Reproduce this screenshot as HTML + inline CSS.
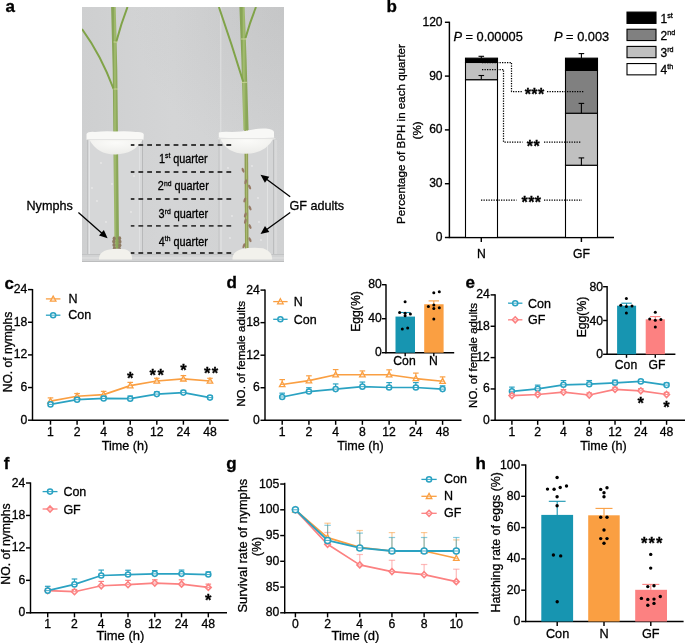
<!DOCTYPE html>
<html><head><meta charset="utf-8"><style>
html,body{margin:0;padding:0;background:#fff;}
svg{display:block;font-family:"Liberation Sans", sans-serif;will-change:transform;}
text{stroke:#000;stroke-width:0.3px;}
</style></head><body>
<svg width="685" height="643" viewBox="0 0 685 643" font-family='"Liberation Sans", sans-serif'>
<text x="5.5" y="12.4" font-size="17" text-anchor="start" font-weight="bold" fill="#000">a</text>
<defs>
<linearGradient id="bg" x1="0" y1="0" x2="1" y2="0">
<stop offset="0" stop-color="#cecfd0"/><stop offset="0.45" stop-color="#d4d5d6"/><stop offset="1" stop-color="#d0d1d2"/>
</linearGradient>
<radialGradient id="tr" cx="1" cy="0" r="0.75" gradientTransform="translate(0 0) scale(1 0.8)">
<stop offset="0" stop-color="#9a9b9c" stop-opacity="0.2"/><stop offset="1" stop-color="#9a9b9c" stop-opacity="0"/>
</radialGradient>
<linearGradient id="stem" x1="0" y1="0" x2="1" y2="0">
<stop offset="0" stop-color="#88a556"/><stop offset="0.45" stop-color="#a6bf72"/><stop offset="1" stop-color="#8aa658"/>
</linearGradient>
<linearGradient id="stem2" x1="0" y1="0" x2="1" y2="0"><stop offset="0" stop-color="#8f9f55"/><stop offset="0.45" stop-color="#abbb70"/><stop offset="1" stop-color="#919f57"/></linearGradient>
<radialGradient id="cot" cx="0.5" cy="0.2" r="0.8">
<stop offset="0" stop-color="#fbfbf9"/><stop offset="1" stop-color="#ecece9"/>
</radialGradient>
<clipPath id="photo"><rect x="82" y="7" width="202" height="255"/></clipPath>
</defs>
<g clip-path="url(#photo)">
<rect x="82" y="7" width="202" height="255" fill="url(#bg)" stroke="none" stroke-width="1"/>
<rect x="82" y="7" width="202" height="255" fill="url(#tr)" stroke="none" stroke-width="1"/>
<rect x="87" y="138" width="56" height="118" fill="#d6d7d8" stroke="none" stroke-width="1"/>
<rect x="219" y="136" width="55.5" height="120" fill="#d4d5d6" stroke="none" stroke-width="1"/>
<line x1="87.5" y1="140" x2="87.5" y2="256" stroke="#bfc0c1" stroke-width="1"/>
<line x1="89.5" y1="140" x2="89.5" y2="256" stroke="#e4e5e6" stroke-width="1"/>
<line x1="139.5" y1="140" x2="139.5" y2="256" stroke="#e0e1e2" stroke-width="1"/>
<line x1="142.5" y1="140" x2="142.5" y2="256" stroke="#b8b9ba" stroke-width="1"/>
<line x1="219" y1="140" x2="219" y2="256" stroke="#c3c4c5" stroke-width="1"/>
<line x1="221" y1="140" x2="221" y2="256" stroke="#e4e5e5" stroke-width="1"/>
<line x1="267.5" y1="140" x2="267.5" y2="256" stroke="#e2e3e3" stroke-width="1"/>
<line x1="273.5" y1="140" x2="273.5" y2="256" stroke="#bcbdbe" stroke-width="1"/>
<line x1="276" y1="140" x2="276" y2="256" stroke="#e0e0e0" stroke-width="1"/>
<line x1="220.8" y1="7" x2="220.8" y2="135" stroke="#e0e1e2" stroke-width="1"/>
<rect x="82" y="254" width="202" height="8" fill="#d2d3d4" stroke="none" stroke-width="1"/>
<line x1="82" y1="254.5" x2="284" y2="254.5" stroke="#c2c3c4" stroke-width="1"/>
<line x1="82" y1="258" x2="284" y2="258" stroke="#e2e2e2" stroke-width="1"/>
<line x1="82" y1="261.5" x2="284" y2="261.5" stroke="#bcbdbe" stroke-width="1"/>
<path d="M113.4,7 L115,70 L115.6,130 L116.8,250" stroke="url(#stem)" stroke-width="4.6" fill="none"/>
<path d="M127.5,7 Q121,24 116.2,42" stroke="#80a348" stroke-width="2" fill="none"/>
<path d="M82,29 Q101,55 113.6,89" stroke="#80a348" stroke-width="2" fill="none"/>
<path d="M242,7 L244,60 L246,130" stroke="url(#stem)" stroke-width="5.2" fill="none"/>
<path d="M246.2,130 L246.8,250" stroke="url(#stem2)" stroke-width="3.6" fill="none"/>
<path d="M256,7 Q250,22 245.5,38" stroke="#80a348" stroke-width="2" fill="none"/>
<path d="M218.9,7 Q232,45 243.3,82" stroke="#80a348" stroke-width="2" fill="none"/>
<line x1="113.5" y1="42" x2="118" y2="42" stroke="#d4dca4" stroke-width="0.8"/>
<line x1="113.5" y1="89" x2="118" y2="89" stroke="#d4dca4" stroke-width="0.8"/>
<line x1="241" y1="39" x2="247" y2="39" stroke="#d4dca4" stroke-width="0.8"/>
<line x1="241" y1="82.3" x2="247" y2="82.3" stroke="#d4dca4" stroke-width="0.8"/>
<ellipse cx="114.2" cy="238.5" rx="1.6" ry="2" fill="#8e7a62"/>
<ellipse cx="119.6" cy="238.2" rx="1.6" ry="2" fill="#8e7a62"/>
<ellipse cx="113.8" cy="241.5" rx="1.6" ry="2" fill="#8e7a62"/>
<ellipse cx="119.9" cy="241.8" rx="1.6" ry="2" fill="#8e7a62"/>
<ellipse cx="114" cy="245" rx="1.6" ry="2" fill="#8e7a62"/>
<ellipse cx="119.8" cy="245.2" rx="1.6" ry="2" fill="#8e7a62"/>
<ellipse cx="114.4" cy="248.5" rx="1.6" ry="2" fill="#8e7a62"/>
<ellipse cx="119.3" cy="248.8" rx="1.6" ry="2" fill="#8e7a62"/>
<ellipse cx="243" cy="170.2" rx="1.2" ry="2.6" fill="#977a66" transform="rotate(-20 243 170.2)"/>
<ellipse cx="245.7" cy="181.7" rx="1.2" ry="2.6" fill="#977a66" transform="rotate(15 245.7 181.7)"/>
<ellipse cx="249.6" cy="187" rx="1.2" ry="2.6" fill="#977a66" transform="rotate(-25 249.6 187)"/>
<ellipse cx="244.8" cy="200" rx="1.2" ry="2.6" fill="#977a66" transform="rotate(20 244.8 200)"/>
<ellipse cx="250" cy="208" rx="1.2" ry="2.6" fill="#977a66" transform="rotate(-25 250 208)"/>
<ellipse cx="245.3" cy="215" rx="1.2" ry="2.6" fill="#977a66" transform="rotate(20 245.3 215)"/>
<ellipse cx="245.3" cy="221.2" rx="1.2" ry="2.6" fill="#977a66" transform="rotate(15 245.3 221.2)"/>
<ellipse cx="250" cy="226.5" rx="1.2" ry="2.6" fill="#977a66" transform="rotate(-25 250 226.5)"/>
<ellipse cx="250" cy="239.7" rx="1.2" ry="2.6" fill="#977a66" transform="rotate(-25 250 239.7)"/>
<ellipse cx="243.9" cy="245.8" rx="1.2" ry="2.6" fill="#977a66" transform="rotate(20 243.9 245.8)"/>
<circle cx="101" cy="163" r="0.9" fill="#e8e8e8"/>
<circle cx="112" cy="184" r="0.9" fill="#e8e8e8"/>
<circle cx="97" cy="201" r="0.9" fill="#e8e8e8"/>
<circle cx="131" cy="212" r="0.9" fill="#e8e8e8"/>
<circle cx="106" cy="222" r="0.9" fill="#e8e8e8"/>
<circle cx="92" cy="188" r="0.9" fill="#e8e8e8"/>
<circle cx="134" cy="176" r="0.9" fill="#e8e8e8"/>
<circle cx="228" cy="168" r="0.9" fill="#e8e8e8"/>
<circle cx="252" cy="166" r="0.9" fill="#e8e8e8"/>
<circle cx="258" cy="198" r="0.9" fill="#e8e8e8"/>
<circle cx="232" cy="216" r="0.9" fill="#e8e8e8"/>
<circle cx="259" cy="222" r="0.9" fill="#e8e8e8"/>
<circle cx="230" cy="238" r="0.9" fill="#e8e8e8"/>
<circle cx="261" cy="240" r="0.9" fill="#e8e8e8"/>
<path d="M89.5,140 Q98,155 116,154.4 Q134,154 142.5,140 Z" fill="url(#cot)"/>
<path d="M86.5,134 Q88,131.3 95,132 Q104,130.8 115,131.5 Q127,130.6 136,132 Q143.5,131.5 143.8,134.5 L143.5,139.8 Q115,141.8 86.5,139.8 Z" fill="#f8f8f6"/>
<line x1="87" y1="139.6" x2="143.5" y2="139.6" stroke="#dcdcda" stroke-width="0.8"/>
<path d="M219.8,137.5 Q226,153.5 245.5,153.8 Q266,153.5 274,137.5 Z" fill="url(#cot)"/>
<path d="M218.8,132.5 Q222,131.5 232,132 Q242,131.5 248,130.5 Q256,128.2 266,128.6 Q273.5,129.5 274,132 L274,137.5 Q248,139.5 218.8,137.5 Z" fill="#f8f8f6"/>
<line x1="218" y1="138.6" x2="275.5" y2="138.6" stroke="#e2e2e0" stroke-width="1"/>
<path d="M99,259.5 Q98.5,252.5 107,250 Q116,247.8 125,249.2 Q132.5,251.5 132,259.5 Z" fill="#f2f1ec"/>
<path d="M232.5,259.5 Q232,252 241,249.2 Q252,246.8 263,248.3 Q272.5,251.5 272.2,259.5 Z" fill="#f2f1ec"/>
</g>
<line x1="231.2" y1="145" x2="130.8" y2="145" stroke="#3a3a3a" stroke-width="1.8" stroke-dasharray="4.8 4.0"/>
<line x1="231.2" y1="172" x2="130.8" y2="172" stroke="#3a3a3a" stroke-width="1.8" stroke-dasharray="4.8 4.0"/>
<line x1="231.2" y1="199" x2="130.8" y2="199" stroke="#3a3a3a" stroke-width="1.8" stroke-dasharray="4.8 4.0"/>
<line x1="231.2" y1="225.8" x2="130.8" y2="225.8" stroke="#3a3a3a" stroke-width="1.8" stroke-dasharray="4.8 4.0"/>
<line x1="231.2" y1="253" x2="130.8" y2="253" stroke="#3a3a3a" stroke-width="1.8" stroke-dasharray="4.8 4.0"/>
<text transform="translate(183.3 162.5) scale(0.89 1)" x="0" y="0" font-size="12.2" text-anchor="middle" fill="#000">1<tspan font-size="7.6" dy="-4.4">st</tspan><tspan dy="4.4"> quarter</tspan></text>
<text transform="translate(183.3 190.1) scale(0.89 1)" x="0" y="0" font-size="12.2" text-anchor="middle" fill="#000">2<tspan font-size="7.6" dy="-4.4">nd</tspan><tspan dy="4.4"> quarter</tspan></text>
<text transform="translate(183.3 217.9) scale(0.89 1)" x="0" y="0" font-size="12.2" text-anchor="middle" fill="#000">3<tspan font-size="7.6" dy="-4.4">rd</tspan><tspan dy="4.4"> quarter</tspan></text>
<text transform="translate(183.3 245.5) scale(0.89 1)" x="0" y="0" font-size="12.2" text-anchor="middle" fill="#000">4<tspan font-size="7.6" dy="-4.4">th</tspan><tspan dy="4.4"> quarter</tspan></text>
<text x="26.5" y="209.5" font-size="12.6" text-anchor="start" font-weight="normal" fill="#000">Nymphs</text>
<text x="289.5" y="210.2" font-size="12.6" text-anchor="start" font-weight="normal" fill="#000">GF adults</text>
<line x1="78.4" y1="212.6" x2="102.18604455801014" y2="233.45351851661164" stroke="#000" stroke-width="1.3"/>
<polygon points="107.60,238.20 98.99,235.58 103.87,230.01" fill="#000"/>
<line x1="290.2" y1="196.7" x2="266.294930437085" y2="179.0730295142142" stroke="#000" stroke-width="1.3"/>
<polygon points="260.50,174.80 269.30,176.69 264.90,182.64" fill="#000"/>
<line x1="290.2" y1="212.5" x2="266.3415546522476" y2="229.6909336849125" stroke="#000" stroke-width="1.3"/>
<polygon points="260.50,233.90 264.99,226.10 269.32,232.11" fill="#000"/>
<text x="386.5" y="12.3" font-size="17" text-anchor="start" font-weight="bold" fill="#000">b</text>
<line x1="449.4" y1="21.7" x2="449.4" y2="238.1" stroke="#000" stroke-width="1.45"/>
<line x1="444.9" y1="237.5" x2="449.4" y2="237.5" stroke="#000" stroke-width="1.45"/>
<text x="442.59999999999997" y="241.0" font-size="12.1" text-anchor="end" font-weight="normal" fill="#000">0</text>
<line x1="444.9" y1="183.7" x2="449.4" y2="183.7" stroke="#000" stroke-width="1.45"/>
<text x="442.59999999999997" y="187.2" font-size="12.1" text-anchor="end" font-weight="normal" fill="#000">30</text>
<line x1="444.9" y1="129.9" x2="449.4" y2="129.9" stroke="#000" stroke-width="1.45"/>
<text x="442.59999999999997" y="133.4" font-size="12.1" text-anchor="end" font-weight="normal" fill="#000">60</text>
<line x1="444.9" y1="76.1" x2="449.4" y2="76.1" stroke="#000" stroke-width="1.45"/>
<text x="442.59999999999997" y="79.6" font-size="12.1" text-anchor="end" font-weight="normal" fill="#000">90</text>
<line x1="444.9" y1="22.30000000000001" x2="449.4" y2="22.30000000000001" stroke="#000" stroke-width="1.45"/>
<text x="442.59999999999997" y="25.8" font-size="12.1" text-anchor="end" font-weight="normal" fill="#000">120</text>
<line x1="448.79999999999995" y1="237.5" x2="614" y2="237.5" stroke="#000" stroke-width="1.45"/>
<line x1="481.3" y1="237.5" x2="481.3" y2="242.0" stroke="#000" stroke-width="1.45"/>
<line x1="581.4" y1="237.5" x2="581.4" y2="242.0" stroke="#000" stroke-width="1.45"/>
<text x="481.3" y="258.3" font-size="12.2" text-anchor="middle" font-weight="normal" fill="#000">N</text>
<text x="581.4" y="258.3" font-size="12.2" text-anchor="middle" font-weight="normal" fill="#000">GF</text>
<text x="405" y="134" font-size="11.6" text-anchor="middle" font-weight="normal" fill="#000" transform="rotate(-90 405 134)">Percentage of BPH in each quarter</text>
<text x="421" y="130.4" font-size="11.6" text-anchor="middle" font-weight="normal" fill="#000" transform="rotate(-90 421 130.4)">(%)</text>
<rect x="465.5" y="79.68666666666667" width="32" height="157.81333333333333" fill="#fff" stroke="#000" stroke-width="1.1"/>
<rect x="465.5" y="62.47066666666669" width="32" height="17.21599999999998" fill="#c0c0c0" stroke="#000" stroke-width="1.1"/>
<rect x="465.5" y="58.16666666666666" width="32" height="4.3040000000000305" fill="#000" stroke="#000" stroke-width="1.1"/>
<rect x="565.5" y="165.22866666666667" width="32" height="72.27133333333333" fill="#fff" stroke="#000" stroke-width="1.1"/>
<rect x="565.5" y="113.22200000000001" width="32" height="52.00666666666666" fill="#c0c0c0" stroke="#000" stroke-width="1.1"/>
<rect x="565.5" y="70.36133333333333" width="32" height="42.860666666666674" fill="#808080" stroke="#000" stroke-width="1.1"/>
<rect x="565.5" y="58.16666666666666" width="32" height="12.194666666666677" fill="#000" stroke="#000" stroke-width="1.1"/>
<line x1="481.3" y1="58.2" x2="481.3" y2="56.3" stroke="#000" stroke-width="1.1"/>
<line x1="478.5" y1="56.3" x2="484.1" y2="56.3" stroke="#000" stroke-width="1.1"/>
<line x1="481.3" y1="79.4" x2="481.3" y2="75.5" stroke="#000" stroke-width="1.1"/>
<line x1="478.5" y1="75.5" x2="484.1" y2="75.5" stroke="#000" stroke-width="1.1"/>
<line x1="581.4" y1="58.2" x2="581.4" y2="53.6" stroke="#000" stroke-width="1.1"/>
<line x1="578.6" y1="53.6" x2="584.1999999999999" y2="53.6" stroke="#000" stroke-width="1.1"/>
<line x1="581.4" y1="113.3" x2="581.4" y2="103.4" stroke="#000" stroke-width="1.1"/>
<line x1="578.6" y1="103.4" x2="584.1999999999999" y2="103.4" stroke="#000" stroke-width="1.1"/>
<line x1="581.4" y1="165.5" x2="581.4" y2="157.9" stroke="#000" stroke-width="1.1"/>
<line x1="578.6" y1="157.9" x2="584.1999999999999" y2="157.9" stroke="#000" stroke-width="1.1"/>
<polyline points="482.00,62.50 511.50,62.50 511.50,91.50 522.50,91.50" fill="none" stroke="#000" stroke-width="1.25" stroke-linejoin="round" stroke-dasharray="1.3 1.2"/>
<polyline points="547.00,91.50 584.00,91.50" fill="none" stroke="#000" stroke-width="1.25" stroke-linejoin="round" stroke-dasharray="1.3 1.2"/>
<polyline points="482.00,69.50 503.50,69.50 503.50,142.00 522.50,142.00" fill="none" stroke="#000" stroke-width="1.25" stroke-linejoin="round" stroke-dasharray="1.3 1.2"/>
<polyline points="544.00,142.00 581.00,142.00" fill="none" stroke="#000" stroke-width="1.25" stroke-linejoin="round" stroke-dasharray="1.3 1.2"/>
<polyline points="481.00,200.00 516.50,200.00" fill="none" stroke="#000" stroke-width="1.25" stroke-linejoin="round" stroke-dasharray="1.3 1.2"/>
<polyline points="544.00,200.00 582.00,200.00" fill="none" stroke="#000" stroke-width="1.25" stroke-linejoin="round" stroke-dasharray="1.3 1.2"/>
<text x="527.8" y="99.91" font-size="16" text-anchor="middle" font-weight="bold" fill="#000">*</text>
<text x="534.4" y="99.91" font-size="16" text-anchor="middle" font-weight="bold" fill="#000">*</text>
<text x="541.0" y="99.91" font-size="16" text-anchor="middle" font-weight="bold" fill="#000">*</text>
<text x="529.9" y="151.81" font-size="16" text-anchor="middle" font-weight="bold" fill="#000">*</text>
<text x="536.5" y="151.81" font-size="16" text-anchor="middle" font-weight="bold" fill="#000">*</text>
<text x="524.7" y="208.41" font-size="16" text-anchor="middle" font-weight="bold" fill="#000">*</text>
<text x="531.3" y="208.41" font-size="16" text-anchor="middle" font-weight="bold" fill="#000">*</text>
<text x="537.9" y="208.41" font-size="16" text-anchor="middle" font-weight="bold" fill="#000">*</text>
<text x="453.4" y="41.2" font-size="12.8" fill="#000"><tspan font-style="italic">P</tspan> = 0.00005</text>
<text x="554" y="41.2" font-size="12.8" fill="#000"><tspan font-style="italic">P</tspan> = 0.003</text>
<rect x="627" y="12.1" width="29" height="11.3" fill="#000" stroke="#000" stroke-width="1.1"/>
<text x="660.5" y="22.5" font-size="12" fill="#000">1<tspan font-size="7.2" dy="-4.6">st</tspan></text>
<rect x="627" y="29.25" width="29" height="11.3" fill="#808080" stroke="#000" stroke-width="1.1"/>
<text x="660.5" y="39.6" font-size="12" fill="#000">2<tspan font-size="7.2" dy="-4.6">nd</tspan></text>
<rect x="627" y="46.4" width="29" height="11.3" fill="#c0c0c0" stroke="#000" stroke-width="1.1"/>
<text x="660.5" y="56.8" font-size="12" fill="#000">3<tspan font-size="7.2" dy="-4.6">rd</tspan></text>
<rect x="627" y="63.55" width="29" height="11.3" fill="#fff" stroke="#000" stroke-width="1.1"/>
<text x="660.5" y="74.0" font-size="12" fill="#000">4<tspan font-size="7.2" dy="-4.6">th</tspan></text>
<text x="4.5" y="288.6" font-size="17" text-anchor="start" font-weight="bold" fill="#000">c</text>
<line x1="32.5" y1="289.0" x2="32.5" y2="420.8" stroke="#000" stroke-width="1.45"/>
<line x1="28.0" y1="420.2" x2="32.5" y2="420.2" stroke="#000" stroke-width="1.45"/>
<text x="27.2" y="423.73" font-size="12.2" text-anchor="end" font-weight="normal" fill="#000">0</text>
<line x1="28.0" y1="387.55" x2="32.5" y2="387.55" stroke="#000" stroke-width="1.45"/>
<text x="27.2" y="391.08" font-size="12.2" text-anchor="end" font-weight="normal" fill="#000">6</text>
<line x1="28.0" y1="354.9" x2="32.5" y2="354.9" stroke="#000" stroke-width="1.45"/>
<text x="27.2" y="358.43" font-size="12.2" text-anchor="end" font-weight="normal" fill="#000">12</text>
<line x1="28.0" y1="322.25" x2="32.5" y2="322.25" stroke="#000" stroke-width="1.45"/>
<text x="27.2" y="325.78" font-size="12.2" text-anchor="end" font-weight="normal" fill="#000">18</text>
<line x1="28.0" y1="289.6" x2="32.5" y2="289.6" stroke="#000" stroke-width="1.45"/>
<text x="27.2" y="293.13" font-size="12.2" text-anchor="end" font-weight="normal" fill="#000">24</text>
<line x1="31.9" y1="420.2" x2="228.7" y2="420.2" stroke="#000" stroke-width="1.45"/>
<line x1="50.5" y1="420.2" x2="50.5" y2="424.7" stroke="#000" stroke-width="1.45"/>
<text x="50.5" y="436" font-size="12.2" text-anchor="middle" font-weight="normal" fill="#000">1</text>
<line x1="77.08" y1="420.2" x2="77.08" y2="424.7" stroke="#000" stroke-width="1.45"/>
<text x="77.08" y="436" font-size="12.2" text-anchor="middle" font-weight="normal" fill="#000">2</text>
<line x1="103.66" y1="420.2" x2="103.66" y2="424.7" stroke="#000" stroke-width="1.45"/>
<text x="103.66" y="436" font-size="12.2" text-anchor="middle" font-weight="normal" fill="#000">4</text>
<line x1="130.24" y1="420.2" x2="130.24" y2="424.7" stroke="#000" stroke-width="1.45"/>
<text x="130.24" y="436" font-size="12.2" text-anchor="middle" font-weight="normal" fill="#000">8</text>
<line x1="156.82" y1="420.2" x2="156.82" y2="424.7" stroke="#000" stroke-width="1.45"/>
<text x="156.82" y="436" font-size="12.2" text-anchor="middle" font-weight="normal" fill="#000">12</text>
<line x1="183.39999999999998" y1="420.2" x2="183.39999999999998" y2="424.7" stroke="#000" stroke-width="1.45"/>
<text x="183.39999999999998" y="436" font-size="12.2" text-anchor="middle" font-weight="normal" fill="#000">24</text>
<line x1="209.98" y1="420.2" x2="209.98" y2="424.7" stroke="#000" stroke-width="1.45"/>
<text x="209.98" y="436" font-size="12.2" text-anchor="middle" font-weight="normal" fill="#000">48</text>
<text x="124.9" y="449.8" font-size="12.6" text-anchor="middle" font-weight="normal" fill="#000">Time (h)</text>
<text x="11.6" y="352" font-size="12.1" text-anchor="middle" font-weight="normal" fill="#000" transform="rotate(-90 11.6 352)">NO. of nymphs</text>
<line x1="45.9" y1="298.9" x2="60.4" y2="298.9" stroke="#fa9f42" stroke-width="1.3"/>
<polygon points="53.15,296.00 55.91,301.07 50.39,301.07" fill="#fff" stroke="#fa9f42" stroke-width="1.3" stroke-linejoin="miter"/>
<line x1="51.70" y1="298.90" x2="54.60" y2="298.90" stroke="#fa9f42" stroke-width="0.9"/>
<text x="68.5" y="303.4" font-size="12.5" text-anchor="start" font-weight="normal" fill="#000">N</text>
<line x1="45.9" y1="315.2" x2="60.4" y2="315.2" stroke="#2aa2c2" stroke-width="1.3"/>
<circle cx="53.15" cy="315.20" r="2.55" fill="#fff" stroke="#2aa2c2" stroke-width="1.5"/>
<line x1="51.00" y1="315.20" x2="55.30" y2="315.20" stroke="#2aa2c2" stroke-width="0.9"/>
<text x="68.3" y="319.2" font-size="12.5" text-anchor="start" font-weight="normal" fill="#000">Con</text>
<line x1="50.5" y1="401.15416666666664" x2="50.5" y2="397.88916666666665" stroke="#fa9f42" stroke-width="1.2"/>
<line x1="47.7" y1="397.88916666666665" x2="53.3" y2="397.88916666666665" stroke="#fa9f42" stroke-width="1.2"/>
<line x1="77.08" y1="396.25666666666666" x2="77.08" y2="393.5358333333333" stroke="#fa9f42" stroke-width="1.2"/>
<line x1="74.28" y1="393.5358333333333" x2="79.88" y2="393.5358333333333" stroke="#fa9f42" stroke-width="1.2"/>
<line x1="103.66" y1="394.62416666666667" x2="103.66" y2="391.3591666666667" stroke="#fa9f42" stroke-width="1.2"/>
<line x1="100.86" y1="391.3591666666667" x2="106.46" y2="391.3591666666667" stroke="#fa9f42" stroke-width="1.2"/>
<line x1="130.24" y1="385.6454166666667" x2="130.24" y2="382.38041666666663" stroke="#fa9f42" stroke-width="1.2"/>
<line x1="127.44000000000001" y1="382.38041666666663" x2="133.04000000000002" y2="382.38041666666663" stroke="#fa9f42" stroke-width="1.2"/>
<line x1="156.82" y1="381.02" x2="156.82" y2="378.2991666666667" stroke="#fa9f42" stroke-width="1.2"/>
<line x1="154.01999999999998" y1="378.2991666666667" x2="159.62" y2="378.2991666666667" stroke="#fa9f42" stroke-width="1.2"/>
<line x1="183.39999999999998" y1="378.8433333333333" x2="183.39999999999998" y2="375.5783333333333" stroke="#fa9f42" stroke-width="1.2"/>
<line x1="180.59999999999997" y1="375.5783333333333" x2="186.2" y2="375.5783333333333" stroke="#fa9f42" stroke-width="1.2"/>
<line x1="209.98" y1="381.02" x2="209.98" y2="378.2991666666667" stroke="#fa9f42" stroke-width="1.2"/>
<line x1="207.17999999999998" y1="378.2991666666667" x2="212.78" y2="378.2991666666667" stroke="#fa9f42" stroke-width="1.2"/>
<polyline points="50.50,401.15 77.08,396.26 103.66,394.62 130.24,385.65 156.82,381.02 183.40,378.84 209.98,381.02" fill="none" stroke="#fa9f42" stroke-width="1.7" stroke-linejoin="round"/>
<polygon points="50.50,398.25 53.26,403.33 47.74,403.33" fill="#fff" stroke="#fa9f42" stroke-width="1.3" stroke-linejoin="miter"/>
<line x1="49.05" y1="401.15" x2="51.95" y2="401.15" stroke="#fa9f42" stroke-width="0.9"/>
<polygon points="77.08,393.36 79.83,398.43 74.33,398.43" fill="#fff" stroke="#fa9f42" stroke-width="1.3" stroke-linejoin="miter"/>
<line x1="75.63" y1="396.26" x2="78.53" y2="396.26" stroke="#fa9f42" stroke-width="0.9"/>
<polygon points="103.66,391.72 106.41,396.80 100.91,396.80" fill="#fff" stroke="#fa9f42" stroke-width="1.3" stroke-linejoin="miter"/>
<line x1="102.21" y1="394.62" x2="105.11" y2="394.62" stroke="#fa9f42" stroke-width="0.9"/>
<polygon points="130.24,382.75 133.00,387.82 127.49,387.82" fill="#fff" stroke="#fa9f42" stroke-width="1.3" stroke-linejoin="miter"/>
<line x1="128.79" y1="385.65" x2="131.69" y2="385.65" stroke="#fa9f42" stroke-width="0.9"/>
<polygon points="156.82,378.12 159.57,383.19 154.06,383.19" fill="#fff" stroke="#fa9f42" stroke-width="1.3" stroke-linejoin="miter"/>
<line x1="155.37" y1="381.02" x2="158.27" y2="381.02" stroke="#fa9f42" stroke-width="0.9"/>
<polygon points="183.40,375.94 186.15,381.02 180.64,381.02" fill="#fff" stroke="#fa9f42" stroke-width="1.3" stroke-linejoin="miter"/>
<line x1="181.95" y1="378.84" x2="184.85" y2="378.84" stroke="#fa9f42" stroke-width="0.9"/>
<polygon points="209.98,378.12 212.73,383.19 207.22,383.19" fill="#fff" stroke="#fa9f42" stroke-width="1.3" stroke-linejoin="miter"/>
<line x1="208.53" y1="381.02" x2="211.43" y2="381.02" stroke="#fa9f42" stroke-width="0.9"/>
<line x1="50.5" y1="404.4191666666667" x2="50.5" y2="402.2425" stroke="#2aa2c2" stroke-width="1.2"/>
<line x1="47.7" y1="402.2425" x2="53.3" y2="402.2425" stroke="#2aa2c2" stroke-width="1.2"/>
<line x1="77.08" y1="399.68491666666665" x2="77.08" y2="397.50825" stroke="#2aa2c2" stroke-width="1.2"/>
<line x1="74.28" y1="397.50825" x2="79.88" y2="397.50825" stroke="#2aa2c2" stroke-width="1.2"/>
<line x1="103.66" y1="398.43333333333334" x2="103.66" y2="396.25666666666666" stroke="#2aa2c2" stroke-width="1.2"/>
<line x1="100.86" y1="396.25666666666666" x2="106.46" y2="396.25666666666666" stroke="#2aa2c2" stroke-width="1.2"/>
<line x1="130.24" y1="398.7054166666667" x2="130.24" y2="395.9845833333333" stroke="#2aa2c2" stroke-width="1.2"/>
<line x1="127.44000000000001" y1="395.9845833333333" x2="133.04000000000002" y2="395.9845833333333" stroke="#2aa2c2" stroke-width="1.2"/>
<line x1="156.82" y1="394.08" x2="156.82" y2="391.9033333333333" stroke="#2aa2c2" stroke-width="1.2"/>
<line x1="154.01999999999998" y1="391.9033333333333" x2="159.62" y2="391.9033333333333" stroke="#2aa2c2" stroke-width="1.2"/>
<line x1="183.39999999999998" y1="392.61075" x2="183.39999999999998" y2="390.4340833333333" stroke="#2aa2c2" stroke-width="1.2"/>
<line x1="180.59999999999997" y1="390.4340833333333" x2="186.2" y2="390.4340833333333" stroke="#2aa2c2" stroke-width="1.2"/>
<line x1="209.98" y1="397.6170833333333" x2="209.98" y2="395.9845833333333" stroke="#2aa2c2" stroke-width="1.2"/>
<line x1="207.17999999999998" y1="395.9845833333333" x2="212.78" y2="395.9845833333333" stroke="#2aa2c2" stroke-width="1.2"/>
<polyline points="50.50,404.42 77.08,399.68 103.66,398.43 130.24,398.71 156.82,394.08 183.40,392.61 209.98,397.62" fill="none" stroke="#2aa2c2" stroke-width="1.7" stroke-linejoin="round"/>
<circle cx="50.50" cy="404.42" r="2.55" fill="#fff" stroke="#2aa2c2" stroke-width="1.5"/>
<line x1="48.35" y1="404.42" x2="52.65" y2="404.42" stroke="#2aa2c2" stroke-width="0.9"/>
<circle cx="77.08" cy="399.68" r="2.55" fill="#fff" stroke="#2aa2c2" stroke-width="1.5"/>
<line x1="74.93" y1="399.68" x2="79.23" y2="399.68" stroke="#2aa2c2" stroke-width="0.9"/>
<circle cx="103.66" cy="398.43" r="2.55" fill="#fff" stroke="#2aa2c2" stroke-width="1.5"/>
<line x1="101.51" y1="398.43" x2="105.81" y2="398.43" stroke="#2aa2c2" stroke-width="0.9"/>
<circle cx="130.24" cy="398.71" r="2.55" fill="#fff" stroke="#2aa2c2" stroke-width="1.5"/>
<line x1="128.09" y1="398.71" x2="132.39" y2="398.71" stroke="#2aa2c2" stroke-width="0.9"/>
<circle cx="156.82" cy="394.08" r="2.55" fill="#fff" stroke="#2aa2c2" stroke-width="1.5"/>
<line x1="154.67" y1="394.08" x2="158.97" y2="394.08" stroke="#2aa2c2" stroke-width="0.9"/>
<circle cx="183.40" cy="392.61" r="2.55" fill="#fff" stroke="#2aa2c2" stroke-width="1.5"/>
<line x1="181.25" y1="392.61" x2="185.55" y2="392.61" stroke="#2aa2c2" stroke-width="0.9"/>
<circle cx="209.98" cy="397.62" r="2.55" fill="#fff" stroke="#2aa2c2" stroke-width="1.5"/>
<line x1="207.83" y1="397.62" x2="212.13" y2="397.62" stroke="#2aa2c2" stroke-width="0.9"/>
<text x="130.24" y="384.15" font-size="16.5" text-anchor="middle" font-weight="bold" fill="#000">*</text>
<text x="152.8" y="381.35" font-size="16.5" text-anchor="middle" font-weight="bold" fill="#000">*</text>
<text x="160.6" y="381.35" font-size="16.5" text-anchor="middle" font-weight="bold" fill="#000">*</text>
<text x="183.4" y="375.65" font-size="16.5" text-anchor="middle" font-weight="bold" fill="#000">*</text>
<text x="207.1" y="379.05" font-size="16.5" text-anchor="middle" font-weight="bold" fill="#000">*</text>
<text x="214.9" y="379.05" font-size="16.5" text-anchor="middle" font-weight="bold" fill="#000">*</text>
<text x="226.5" y="287.7" font-size="17" text-anchor="start" font-weight="bold" fill="#000">d</text>
<line x1="265" y1="289.5" x2="265" y2="420.90000000000003" stroke="#000" stroke-width="1.45"/>
<line x1="260.5" y1="420.3" x2="265" y2="420.3" stroke="#000" stroke-width="1.45"/>
<text x="259.7" y="423.83" font-size="12.2" text-anchor="end" font-weight="normal" fill="#000">0</text>
<line x1="260.5" y1="387.75" x2="265" y2="387.75" stroke="#000" stroke-width="1.45"/>
<text x="259.7" y="391.28" font-size="12.2" text-anchor="end" font-weight="normal" fill="#000">6</text>
<line x1="260.5" y1="355.20000000000005" x2="265" y2="355.20000000000005" stroke="#000" stroke-width="1.45"/>
<text x="259.7" y="358.73" font-size="12.2" text-anchor="end" font-weight="normal" fill="#000">12</text>
<line x1="260.5" y1="322.65000000000003" x2="265" y2="322.65000000000003" stroke="#000" stroke-width="1.45"/>
<text x="259.7" y="326.18" font-size="12.2" text-anchor="end" font-weight="normal" fill="#000">18</text>
<line x1="260.5" y1="290.1" x2="265" y2="290.1" stroke="#000" stroke-width="1.45"/>
<text x="259.7" y="293.63" font-size="12.2" text-anchor="end" font-weight="normal" fill="#000">24</text>
<line x1="264.4" y1="420.3" x2="461.5" y2="420.3" stroke="#000" stroke-width="1.45"/>
<line x1="282.2" y1="420.3" x2="282.2" y2="424.8" stroke="#000" stroke-width="1.45"/>
<text x="282.2" y="436" font-size="12.2" text-anchor="middle" font-weight="normal" fill="#000">1</text>
<line x1="308.93" y1="420.3" x2="308.93" y2="424.8" stroke="#000" stroke-width="1.45"/>
<text x="308.93" y="436" font-size="12.2" text-anchor="middle" font-weight="normal" fill="#000">2</text>
<line x1="335.65999999999997" y1="420.3" x2="335.65999999999997" y2="424.8" stroke="#000" stroke-width="1.45"/>
<text x="335.65999999999997" y="436" font-size="12.2" text-anchor="middle" font-weight="normal" fill="#000">4</text>
<line x1="362.39" y1="420.3" x2="362.39" y2="424.8" stroke="#000" stroke-width="1.45"/>
<text x="362.39" y="436" font-size="12.2" text-anchor="middle" font-weight="normal" fill="#000">8</text>
<line x1="389.12" y1="420.3" x2="389.12" y2="424.8" stroke="#000" stroke-width="1.45"/>
<text x="389.12" y="436" font-size="12.2" text-anchor="middle" font-weight="normal" fill="#000">12</text>
<line x1="415.85" y1="420.3" x2="415.85" y2="424.8" stroke="#000" stroke-width="1.45"/>
<text x="415.85" y="436" font-size="12.2" text-anchor="middle" font-weight="normal" fill="#000">24</text>
<line x1="442.58" y1="420.3" x2="442.58" y2="424.8" stroke="#000" stroke-width="1.45"/>
<text x="442.58" y="436" font-size="12.2" text-anchor="middle" font-weight="normal" fill="#000">48</text>
<text x="360.5" y="450" font-size="12.6" text-anchor="middle" font-weight="normal" fill="#000">Time (h)</text>
<text x="245.2" y="353.9" font-size="11.6" text-anchor="middle" font-weight="normal" fill="#000" transform="rotate(-90 245.2 353.9)">NO. of female adults</text>
<line x1="273.2" y1="301.6" x2="287.6" y2="301.6" stroke="#fa9f42" stroke-width="1.3"/>
<polygon points="280.40,298.70 283.15,303.78 277.64,303.78" fill="#fff" stroke="#fa9f42" stroke-width="1.3" stroke-linejoin="miter"/>
<line x1="278.95" y1="301.60" x2="281.85" y2="301.60" stroke="#fa9f42" stroke-width="0.9"/>
<text x="293.7" y="306.1" font-size="12.5" text-anchor="start" font-weight="normal" fill="#000">N</text>
<line x1="273.2" y1="319.3" x2="287.6" y2="319.3" stroke="#2aa2c2" stroke-width="1.3"/>
<circle cx="280.40" cy="319.30" r="2.55" fill="#fff" stroke="#2aa2c2" stroke-width="1.5"/>
<line x1="278.25" y1="319.30" x2="282.55" y2="319.30" stroke="#2aa2c2" stroke-width="0.9"/>
<text x="293.7" y="323.8" font-size="12.5" text-anchor="start" font-weight="normal" fill="#000">Con</text>
<line x1="282.2" y1="396.9725" x2="282.2" y2="393.175" stroke="#2aa2c2" stroke-width="1.2"/>
<line x1="279.4" y1="393.175" x2="285.0" y2="393.175" stroke="#2aa2c2" stroke-width="1.2"/>
<line x1="308.93" y1="391.5475" x2="308.93" y2="387.75" stroke="#2aa2c2" stroke-width="1.2"/>
<line x1="306.13" y1="387.75" x2="311.73" y2="387.75" stroke="#2aa2c2" stroke-width="1.2"/>
<line x1="335.65999999999997" y1="389.10625" x2="335.65999999999997" y2="383.9525" stroke="#2aa2c2" stroke-width="1.2"/>
<line x1="332.85999999999996" y1="383.9525" x2="338.46" y2="383.9525" stroke="#2aa2c2" stroke-width="1.2"/>
<line x1="362.39" y1="386.665" x2="362.39" y2="382.05375000000004" stroke="#2aa2c2" stroke-width="1.2"/>
<line x1="359.59" y1="382.05375000000004" x2="365.19" y2="382.05375000000004" stroke="#2aa2c2" stroke-width="1.2"/>
<line x1="389.12" y1="387.47875" x2="389.12" y2="382.59625" stroke="#2aa2c2" stroke-width="1.2"/>
<line x1="386.32" y1="382.59625" x2="391.92" y2="382.59625" stroke="#2aa2c2" stroke-width="1.2"/>
<line x1="415.85" y1="387.47875" x2="415.85" y2="382.59625" stroke="#2aa2c2" stroke-width="1.2"/>
<line x1="413.05" y1="382.59625" x2="418.65000000000003" y2="382.59625" stroke="#2aa2c2" stroke-width="1.2"/>
<line x1="442.58" y1="389.10625" x2="442.58" y2="385.85125" stroke="#2aa2c2" stroke-width="1.2"/>
<line x1="439.78" y1="385.85125" x2="445.38" y2="385.85125" stroke="#2aa2c2" stroke-width="1.2"/>
<polyline points="282.20,396.97 308.93,391.55 335.66,389.11 362.39,386.67 389.12,387.48 415.85,387.48 442.58,389.11" fill="none" stroke="#2aa2c2" stroke-width="1.7" stroke-linejoin="round"/>
<circle cx="282.20" cy="396.97" r="2.55" fill="#fff" stroke="#2aa2c2" stroke-width="1.5"/>
<line x1="280.05" y1="396.97" x2="284.35" y2="396.97" stroke="#2aa2c2" stroke-width="0.9"/>
<circle cx="308.93" cy="391.55" r="2.55" fill="#fff" stroke="#2aa2c2" stroke-width="1.5"/>
<line x1="306.78" y1="391.55" x2="311.08" y2="391.55" stroke="#2aa2c2" stroke-width="0.9"/>
<circle cx="335.66" cy="389.11" r="2.55" fill="#fff" stroke="#2aa2c2" stroke-width="1.5"/>
<line x1="333.51" y1="389.11" x2="337.81" y2="389.11" stroke="#2aa2c2" stroke-width="0.9"/>
<circle cx="362.39" cy="386.67" r="2.55" fill="#fff" stroke="#2aa2c2" stroke-width="1.5"/>
<line x1="360.24" y1="386.67" x2="364.54" y2="386.67" stroke="#2aa2c2" stroke-width="0.9"/>
<circle cx="389.12" cy="387.48" r="2.55" fill="#fff" stroke="#2aa2c2" stroke-width="1.5"/>
<line x1="386.97" y1="387.48" x2="391.27" y2="387.48" stroke="#2aa2c2" stroke-width="0.9"/>
<circle cx="415.85" cy="387.48" r="2.55" fill="#fff" stroke="#2aa2c2" stroke-width="1.5"/>
<line x1="413.70" y1="387.48" x2="418.00" y2="387.48" stroke="#2aa2c2" stroke-width="0.9"/>
<circle cx="442.58" cy="389.11" r="2.55" fill="#fff" stroke="#2aa2c2" stroke-width="1.5"/>
<line x1="440.43" y1="389.11" x2="444.73" y2="389.11" stroke="#2aa2c2" stroke-width="0.9"/>
<line x1="282.2" y1="384.495" x2="282.2" y2="379.6125" stroke="#fa9f42" stroke-width="1.2"/>
<line x1="279.4" y1="379.6125" x2="285.0" y2="379.6125" stroke="#fa9f42" stroke-width="1.2"/>
<line x1="308.93" y1="380.6975" x2="308.93" y2="375.815" stroke="#fa9f42" stroke-width="1.2"/>
<line x1="306.13" y1="375.815" x2="311.73" y2="375.815" stroke="#fa9f42" stroke-width="1.2"/>
<line x1="335.65999999999997" y1="374.73" x2="335.65999999999997" y2="369.57625" stroke="#fa9f42" stroke-width="1.2"/>
<line x1="332.85999999999996" y1="369.57625" x2="338.46" y2="369.57625" stroke="#fa9f42" stroke-width="1.2"/>
<line x1="362.39" y1="374.73" x2="362.39" y2="370.9325" stroke="#fa9f42" stroke-width="1.2"/>
<line x1="359.59" y1="370.9325" x2="365.19" y2="370.9325" stroke="#fa9f42" stroke-width="1.2"/>
<line x1="389.12" y1="374.73" x2="389.12" y2="369.8475" stroke="#fa9f42" stroke-width="1.2"/>
<line x1="386.32" y1="369.8475" x2="391.92" y2="369.8475" stroke="#fa9f42" stroke-width="1.2"/>
<line x1="415.85" y1="378.52750000000003" x2="415.85" y2="373.1025" stroke="#fa9f42" stroke-width="1.2"/>
<line x1="413.05" y1="373.1025" x2="418.65000000000003" y2="373.1025" stroke="#fa9f42" stroke-width="1.2"/>
<line x1="442.58" y1="381.24" x2="442.58" y2="376.90000000000003" stroke="#fa9f42" stroke-width="1.2"/>
<line x1="439.78" y1="376.90000000000003" x2="445.38" y2="376.90000000000003" stroke="#fa9f42" stroke-width="1.2"/>
<polyline points="282.20,384.50 308.93,380.70 335.66,374.73 362.39,374.73 389.12,374.73 415.85,378.53 442.58,381.24" fill="none" stroke="#fa9f42" stroke-width="1.7" stroke-linejoin="round"/>
<polygon points="282.20,381.60 284.95,386.67 279.44,386.67" fill="#fff" stroke="#fa9f42" stroke-width="1.3" stroke-linejoin="miter"/>
<line x1="280.75" y1="384.50" x2="283.65" y2="384.50" stroke="#fa9f42" stroke-width="0.9"/>
<polygon points="308.93,377.80 311.69,382.87 306.18,382.87" fill="#fff" stroke="#fa9f42" stroke-width="1.3" stroke-linejoin="miter"/>
<line x1="307.48" y1="380.70" x2="310.38" y2="380.70" stroke="#fa9f42" stroke-width="0.9"/>
<polygon points="335.66,371.83 338.41,376.91 332.90,376.91" fill="#fff" stroke="#fa9f42" stroke-width="1.3" stroke-linejoin="miter"/>
<line x1="334.21" y1="374.73" x2="337.11" y2="374.73" stroke="#fa9f42" stroke-width="0.9"/>
<polygon points="362.39,371.83 365.14,376.91 359.63,376.91" fill="#fff" stroke="#fa9f42" stroke-width="1.3" stroke-linejoin="miter"/>
<line x1="360.94" y1="374.73" x2="363.84" y2="374.73" stroke="#fa9f42" stroke-width="0.9"/>
<polygon points="389.12,371.83 391.88,376.91 386.37,376.91" fill="#fff" stroke="#fa9f42" stroke-width="1.3" stroke-linejoin="miter"/>
<line x1="387.67" y1="374.73" x2="390.57" y2="374.73" stroke="#fa9f42" stroke-width="0.9"/>
<polygon points="415.85,375.63 418.61,380.70 413.10,380.70" fill="#fff" stroke="#fa9f42" stroke-width="1.3" stroke-linejoin="miter"/>
<line x1="414.40" y1="378.53" x2="417.30" y2="378.53" stroke="#fa9f42" stroke-width="0.9"/>
<polygon points="442.58,378.34 445.33,383.42 439.82,383.42" fill="#fff" stroke="#fa9f42" stroke-width="1.3" stroke-linejoin="miter"/>
<line x1="441.13" y1="381.24" x2="444.03" y2="381.24" stroke="#fa9f42" stroke-width="0.9"/>
<line x1="386" y1="284.2" x2="386" y2="353.3" stroke="#000" stroke-width="1.45"/>
<line x1="382" y1="352.7" x2="386" y2="352.7" stroke="#000" stroke-width="1.45"/>
<text x="381.9" y="356.23" font-size="12.2" text-anchor="end" font-weight="normal" fill="#000">0</text>
<line x1="382" y1="318.7" x2="386" y2="318.7" stroke="#000" stroke-width="1.45"/>
<text x="381.9" y="322.23" font-size="12.2" text-anchor="end" font-weight="normal" fill="#000">40</text>
<line x1="382" y1="284.7" x2="386" y2="284.7" stroke="#000" stroke-width="1.45"/>
<text x="381.9" y="288.23" font-size="12.2" text-anchor="end" font-weight="normal" fill="#000">80</text>
<line x1="385.4" y1="352.7" x2="454.2" y2="352.7" stroke="#000" stroke-width="1.45"/>
<line x1="405.2" y1="352.7" x2="405.2" y2="356.2" stroke="#000" stroke-width="1.45"/>
<line x1="433.8" y1="352.7" x2="433.8" y2="356.2" stroke="#000" stroke-width="1.45"/>
<text x="404.5" y="365" font-size="12.2" text-anchor="middle" font-weight="normal" fill="#000">Con</text>
<text x="433.5" y="365" font-size="12.2" text-anchor="middle" font-weight="normal" fill="#000">N</text>
<text x="360" y="311.5" font-size="12.2" text-anchor="middle" font-weight="normal" fill="#000" transform="rotate(-90 360 311.5)">Egg(%)</text>
<rect x="395.5" y="316.575" width="19.5" height="36.125" fill="#1795b1" stroke="none" stroke-width="1"/>
<rect x="424.2" y="304.25" width="19.4" height="48.44999999999999" fill="#fa9f42" stroke="none" stroke-width="1"/>
<line x1="405.2" y1="316.575" x2="405.2" y2="312.5" stroke="#1795b1" stroke-width="1.1"/>
<line x1="400.0" y1="312.5" x2="410.4" y2="312.5" stroke="#1795b1" stroke-width="1.1"/>
<line x1="433.8" y1="304.25" x2="433.8" y2="300.9" stroke="#fa9f42" stroke-width="1.1"/>
<line x1="428.6" y1="300.9" x2="439.0" y2="300.9" stroke="#fa9f42" stroke-width="1.1"/>
<circle cx="405.1" cy="301.8" r="1.5" fill="#000"/>
<circle cx="399.6" cy="312.5" r="1.5" fill="#000"/>
<circle cx="405.1" cy="313.2" r="1.5" fill="#000"/>
<circle cx="410.4" cy="314.1" r="1.5" fill="#000"/>
<circle cx="405.1" cy="315.8" r="1.5" fill="#000"/>
<circle cx="402.3" cy="329" r="1.5" fill="#000"/>
<circle cx="407.7" cy="328.1" r="1.5" fill="#000"/>
<circle cx="433.8" cy="292.8" r="1.5" fill="#000"/>
<circle cx="439.3" cy="291.8" r="1.5" fill="#000"/>
<circle cx="433.8" cy="304.9" r="1.5" fill="#000"/>
<circle cx="428.4" cy="306.6" r="1.5" fill="#000"/>
<circle cx="433.8" cy="308.4" r="1.5" fill="#000"/>
<circle cx="439.3" cy="307.8" r="1.5" fill="#000"/>
<circle cx="433.8" cy="318.9" r="1.5" fill="#000"/>
<text x="465.5" y="288" font-size="17" text-anchor="start" font-weight="bold" fill="#000">e</text>
<line x1="495.1" y1="294.29999999999995" x2="495.1" y2="420.90000000000003" stroke="#000" stroke-width="1.45"/>
<line x1="490.6" y1="420.3" x2="495.1" y2="420.3" stroke="#000" stroke-width="1.45"/>
<text x="489.8" y="423.83" font-size="12.2" text-anchor="end" font-weight="normal" fill="#000">0</text>
<line x1="490.6" y1="388.95" x2="495.1" y2="388.95" stroke="#000" stroke-width="1.45"/>
<text x="489.8" y="392.48" font-size="12.2" text-anchor="end" font-weight="normal" fill="#000">6</text>
<line x1="490.6" y1="357.6" x2="495.1" y2="357.6" stroke="#000" stroke-width="1.45"/>
<text x="489.8" y="361.13" font-size="12.2" text-anchor="end" font-weight="normal" fill="#000">12</text>
<line x1="490.6" y1="326.25" x2="495.1" y2="326.25" stroke="#000" stroke-width="1.45"/>
<text x="489.8" y="329.78" font-size="12.2" text-anchor="end" font-weight="normal" fill="#000">18</text>
<line x1="490.6" y1="294.9" x2="495.1" y2="294.9" stroke="#000" stroke-width="1.45"/>
<text x="489.8" y="298.43" font-size="12.2" text-anchor="end" font-weight="normal" fill="#000">24</text>
<line x1="494.5" y1="420.3" x2="685" y2="420.3" stroke="#000" stroke-width="1.45"/>
<line x1="511.9" y1="420.3" x2="511.9" y2="424.8" stroke="#000" stroke-width="1.45"/>
<text x="511.9" y="436" font-size="12.2" text-anchor="middle" font-weight="normal" fill="#000">1</text>
<line x1="537.68" y1="420.3" x2="537.68" y2="424.8" stroke="#000" stroke-width="1.45"/>
<text x="537.68" y="436" font-size="12.2" text-anchor="middle" font-weight="normal" fill="#000">2</text>
<line x1="563.46" y1="420.3" x2="563.46" y2="424.8" stroke="#000" stroke-width="1.45"/>
<text x="563.46" y="436" font-size="12.2" text-anchor="middle" font-weight="normal" fill="#000">4</text>
<line x1="589.24" y1="420.3" x2="589.24" y2="424.8" stroke="#000" stroke-width="1.45"/>
<text x="589.24" y="436" font-size="12.2" text-anchor="middle" font-weight="normal" fill="#000">8</text>
<line x1="615.02" y1="420.3" x2="615.02" y2="424.8" stroke="#000" stroke-width="1.45"/>
<text x="615.02" y="436" font-size="12.2" text-anchor="middle" font-weight="normal" fill="#000">12</text>
<line x1="640.8" y1="420.3" x2="640.8" y2="424.8" stroke="#000" stroke-width="1.45"/>
<text x="640.8" y="436" font-size="12.2" text-anchor="middle" font-weight="normal" fill="#000">24</text>
<line x1="666.5799999999999" y1="420.3" x2="666.5799999999999" y2="424.8" stroke="#000" stroke-width="1.45"/>
<text x="666.5799999999999" y="436" font-size="12.2" text-anchor="middle" font-weight="normal" fill="#000">48</text>
<text x="603.5" y="450" font-size="12.6" text-anchor="middle" font-weight="normal" fill="#000">Time (h)</text>
<text x="476.6" y="355.5" font-size="11.5" text-anchor="middle" font-weight="normal" fill="#000" transform="rotate(-90 476.6 355.5)">NO. of female adults</text>
<line x1="508" y1="303.2" x2="522.4" y2="303.2" stroke="#2aa2c2" stroke-width="1.3"/>
<circle cx="515.20" cy="303.20" r="2.55" fill="#fff" stroke="#2aa2c2" stroke-width="1.5"/>
<line x1="513.05" y1="303.20" x2="517.35" y2="303.20" stroke="#2aa2c2" stroke-width="0.9"/>
<text x="528.1" y="307.7" font-size="12.5" text-anchor="start" font-weight="normal" fill="#000">Con</text>
<line x1="508" y1="319.8" x2="522.4" y2="319.8" stroke="#fc8181" stroke-width="1.3"/>
<polygon points="515.20,316.80 518.05,319.80 515.20,322.80 512.35,319.80" fill="#fff" stroke="#fc8181" stroke-width="1.6"/>
<line x1="513.70" y1="319.80" x2="516.70" y2="319.80" stroke="#fc8181" stroke-width="0.9"/>
<text x="528.1" y="324.3" font-size="12.5" text-anchor="start" font-weight="normal" fill="#000">GF</text>
<line x1="511.9" y1="391.3" x2="511.9" y2="387.12" stroke="#2aa2c2" stroke-width="1.2"/>
<line x1="509.09999999999997" y1="387.12" x2="514.6999999999999" y2="387.12" stroke="#2aa2c2" stroke-width="1.2"/>
<line x1="537.68" y1="388.8" x2="537.68" y2="385.1425" stroke="#2aa2c2" stroke-width="1.2"/>
<line x1="534.88" y1="385.1425" x2="540.4799999999999" y2="385.1425" stroke="#2aa2c2" stroke-width="1.2"/>
<line x1="563.46" y1="384.8" x2="563.46" y2="380.62" stroke="#2aa2c2" stroke-width="1.2"/>
<line x1="560.6600000000001" y1="380.62" x2="566.26" y2="380.62" stroke="#2aa2c2" stroke-width="1.2"/>
<line x1="589.24" y1="384.2" x2="589.24" y2="380.5425" stroke="#2aa2c2" stroke-width="1.2"/>
<line x1="586.44" y1="380.5425" x2="592.04" y2="380.5425" stroke="#2aa2c2" stroke-width="1.2"/>
<line x1="615.02" y1="382.8" x2="615.02" y2="380.1875" stroke="#2aa2c2" stroke-width="1.2"/>
<line x1="612.22" y1="380.1875" x2="617.8199999999999" y2="380.1875" stroke="#2aa2c2" stroke-width="1.2"/>
<line x1="640.8" y1="381.4" x2="640.8" y2="379.8325" stroke="#2aa2c2" stroke-width="1.2"/>
<line x1="638.0" y1="379.8325" x2="643.5999999999999" y2="379.8325" stroke="#2aa2c2" stroke-width="1.2"/>
<line x1="666.5799999999999" y1="385.1" x2="666.5799999999999" y2="383.01" stroke="#2aa2c2" stroke-width="1.2"/>
<line x1="663.78" y1="383.01" x2="669.3799999999999" y2="383.01" stroke="#2aa2c2" stroke-width="1.2"/>
<polyline points="511.90,391.30 537.68,388.80 563.46,384.80 589.24,384.20 615.02,382.80 640.80,381.40 666.58,385.10" fill="none" stroke="#2aa2c2" stroke-width="1.7" stroke-linejoin="round"/>
<circle cx="511.90" cy="391.30" r="2.55" fill="#fff" stroke="#2aa2c2" stroke-width="1.5"/>
<line x1="509.75" y1="391.30" x2="514.05" y2="391.30" stroke="#2aa2c2" stroke-width="0.9"/>
<circle cx="537.68" cy="388.80" r="2.55" fill="#fff" stroke="#2aa2c2" stroke-width="1.5"/>
<line x1="535.53" y1="388.80" x2="539.83" y2="388.80" stroke="#2aa2c2" stroke-width="0.9"/>
<circle cx="563.46" cy="384.80" r="2.55" fill="#fff" stroke="#2aa2c2" stroke-width="1.5"/>
<line x1="561.31" y1="384.80" x2="565.61" y2="384.80" stroke="#2aa2c2" stroke-width="0.9"/>
<circle cx="589.24" cy="384.20" r="2.55" fill="#fff" stroke="#2aa2c2" stroke-width="1.5"/>
<line x1="587.09" y1="384.20" x2="591.39" y2="384.20" stroke="#2aa2c2" stroke-width="0.9"/>
<circle cx="615.02" cy="382.80" r="2.55" fill="#fff" stroke="#2aa2c2" stroke-width="1.5"/>
<line x1="612.87" y1="382.80" x2="617.17" y2="382.80" stroke="#2aa2c2" stroke-width="0.9"/>
<circle cx="640.80" cy="381.40" r="2.55" fill="#fff" stroke="#2aa2c2" stroke-width="1.5"/>
<line x1="638.65" y1="381.40" x2="642.95" y2="381.40" stroke="#2aa2c2" stroke-width="0.9"/>
<circle cx="666.58" cy="385.10" r="2.55" fill="#fff" stroke="#2aa2c2" stroke-width="1.5"/>
<line x1="664.43" y1="385.10" x2="668.73" y2="385.10" stroke="#2aa2c2" stroke-width="0.9"/>
<line x1="511.9" y1="395.6" x2="511.9" y2="394.0325" stroke="#fc8181" stroke-width="1.2"/>
<line x1="509.09999999999997" y1="394.0325" x2="514.6999999999999" y2="394.0325" stroke="#fc8181" stroke-width="1.2"/>
<line x1="537.68" y1="394.5" x2="537.68" y2="392.9325" stroke="#fc8181" stroke-width="1.2"/>
<line x1="534.88" y1="392.9325" x2="540.4799999999999" y2="392.9325" stroke="#fc8181" stroke-width="1.2"/>
<line x1="563.46" y1="392.2" x2="563.46" y2="389.5875" stroke="#fc8181" stroke-width="1.2"/>
<line x1="560.6600000000001" y1="389.5875" x2="566.26" y2="389.5875" stroke="#fc8181" stroke-width="1.2"/>
<line x1="589.24" y1="395.0" x2="589.24" y2="392.91" stroke="#fc8181" stroke-width="1.2"/>
<line x1="586.44" y1="392.91" x2="592.04" y2="392.91" stroke="#fc8181" stroke-width="1.2"/>
<line x1="615.02" y1="389.4" x2="615.02" y2="387.30999999999995" stroke="#fc8181" stroke-width="1.2"/>
<line x1="612.22" y1="387.30999999999995" x2="617.8199999999999" y2="387.30999999999995" stroke="#fc8181" stroke-width="1.2"/>
<line x1="640.8" y1="390.8" x2="640.8" y2="388.71000000000004" stroke="#fc8181" stroke-width="1.2"/>
<line x1="638.0" y1="388.71000000000004" x2="643.5999999999999" y2="388.71000000000004" stroke="#fc8181" stroke-width="1.2"/>
<line x1="666.5799999999999" y1="394.5" x2="666.5799999999999" y2="392.40999999999997" stroke="#fc8181" stroke-width="1.2"/>
<line x1="663.78" y1="392.40999999999997" x2="669.3799999999999" y2="392.40999999999997" stroke="#fc8181" stroke-width="1.2"/>
<polyline points="511.90,395.60 537.68,394.50 563.46,392.20 589.24,395.00 615.02,389.40 640.80,390.80 666.58,394.50" fill="none" stroke="#fc8181" stroke-width="1.7" stroke-linejoin="round"/>
<polygon points="511.90,392.60 514.75,395.60 511.90,398.60 509.05,395.60" fill="#fff" stroke="#fc8181" stroke-width="1.6"/>
<line x1="510.40" y1="395.60" x2="513.40" y2="395.60" stroke="#fc8181" stroke-width="0.9"/>
<polygon points="537.68,391.50 540.53,394.50 537.68,397.50 534.83,394.50" fill="#fff" stroke="#fc8181" stroke-width="1.6"/>
<line x1="536.18" y1="394.50" x2="539.18" y2="394.50" stroke="#fc8181" stroke-width="0.9"/>
<polygon points="563.46,389.20 566.31,392.20 563.46,395.20 560.61,392.20" fill="#fff" stroke="#fc8181" stroke-width="1.6"/>
<line x1="561.96" y1="392.20" x2="564.96" y2="392.20" stroke="#fc8181" stroke-width="0.9"/>
<polygon points="589.24,392.00 592.09,395.00 589.24,398.00 586.39,395.00" fill="#fff" stroke="#fc8181" stroke-width="1.6"/>
<line x1="587.74" y1="395.00" x2="590.74" y2="395.00" stroke="#fc8181" stroke-width="0.9"/>
<polygon points="615.02,386.40 617.87,389.40 615.02,392.40 612.17,389.40" fill="#fff" stroke="#fc8181" stroke-width="1.6"/>
<line x1="613.52" y1="389.40" x2="616.52" y2="389.40" stroke="#fc8181" stroke-width="0.9"/>
<polygon points="640.80,387.80 643.65,390.80 640.80,393.80 637.95,390.80" fill="#fff" stroke="#fc8181" stroke-width="1.6"/>
<line x1="639.30" y1="390.80" x2="642.30" y2="390.80" stroke="#fc8181" stroke-width="0.9"/>
<polygon points="666.58,391.50 669.43,394.50 666.58,397.50 663.73,394.50" fill="#fff" stroke="#fc8181" stroke-width="1.6"/>
<line x1="665.08" y1="394.50" x2="668.08" y2="394.50" stroke="#fc8181" stroke-width="0.9"/>
<text x="640.8" y="408.85" font-size="16.5" text-anchor="middle" font-weight="bold" fill="#000">*</text>
<text x="666.58" y="413.15" font-size="16.5" text-anchor="middle" font-weight="bold" fill="#000">*</text>
<line x1="607.1" y1="285.9" x2="607.1" y2="354.90000000000003" stroke="#000" stroke-width="1.45"/>
<line x1="603.1" y1="354.3" x2="607.1" y2="354.3" stroke="#000" stroke-width="1.45"/>
<text x="603.0" y="358.43" font-size="12.2" text-anchor="end" font-weight="normal" fill="#000">0</text>
<line x1="603.1" y1="320.5" x2="607.1" y2="320.5" stroke="#000" stroke-width="1.45"/>
<text x="603.0" y="324.63" font-size="12.2" text-anchor="end" font-weight="normal" fill="#000">40</text>
<line x1="603.1" y1="286.70000000000005" x2="607.1" y2="286.70000000000005" stroke="#000" stroke-width="1.45"/>
<text x="603.0" y="290.83" font-size="12.2" text-anchor="end" font-weight="normal" fill="#000">80</text>
<line x1="606.5" y1="354.3" x2="675.4" y2="354.3" stroke="#000" stroke-width="1.45"/>
<line x1="626.5" y1="354.3" x2="626.5" y2="357.8" stroke="#000" stroke-width="1.45"/>
<line x1="655.3" y1="354.3" x2="655.3" y2="357.8" stroke="#000" stroke-width="1.45"/>
<text x="626" y="368.8" font-size="12.2" text-anchor="middle" font-weight="normal" fill="#000">Con</text>
<text x="657" y="368.8" font-size="12.2" text-anchor="middle" font-weight="normal" fill="#000">GF</text>
<text x="586" y="317" font-size="12.2" text-anchor="middle" font-weight="normal" fill="#000" transform="rotate(-90 586 317)">Egg(%)</text>
<rect x="617.1" y="305.7" width="19" height="48.60000000000002" fill="#1795b1" stroke="none" stroke-width="1"/>
<rect x="645.7" y="319.3" width="19.2" height="35.0" fill="#fc8181" stroke="none" stroke-width="1"/>
<line x1="626.5" y1="305.7" x2="626.5" y2="303.2" stroke="#1795b1" stroke-width="1.1"/>
<line x1="621.3" y1="303.2" x2="631.7" y2="303.2" stroke="#1795b1" stroke-width="1.1"/>
<line x1="655.3" y1="319.3" x2="655.3" y2="316.6" stroke="#fc8181" stroke-width="1.1"/>
<line x1="650.0999999999999" y1="316.6" x2="660.5" y2="316.6" stroke="#fc8181" stroke-width="1.1"/>
<circle cx="626.4" cy="298.4" r="1.5" fill="#000"/>
<circle cx="620.8" cy="305.3" r="1.5" fill="#000"/>
<circle cx="626.4" cy="306.5" r="1.5" fill="#000"/>
<circle cx="632" cy="306.1" r="1.5" fill="#000"/>
<circle cx="626.4" cy="313" r="1.5" fill="#000"/>
<circle cx="655.3" cy="312.2" r="1.5" fill="#000"/>
<circle cx="649.7" cy="319" r="1.5" fill="#000"/>
<circle cx="655.3" cy="320.3" r="1.5" fill="#000"/>
<circle cx="660.9" cy="319.5" r="1.5" fill="#000"/>
<circle cx="655.3" cy="327" r="1.5" fill="#000"/>
<text x="3.8" y="469" font-size="17" text-anchor="start" font-weight="bold" fill="#000">f</text>
<line x1="30.5" y1="482.4" x2="30.5" y2="613.4" stroke="#000" stroke-width="1.45"/>
<line x1="26.0" y1="612.8" x2="30.5" y2="612.8" stroke="#000" stroke-width="1.45"/>
<text x="25.2" y="616.33" font-size="12.2" text-anchor="end" font-weight="normal" fill="#000">0</text>
<line x1="26.0" y1="580.3499999999999" x2="30.5" y2="580.3499999999999" stroke="#000" stroke-width="1.45"/>
<text x="25.2" y="583.88" font-size="12.2" text-anchor="end" font-weight="normal" fill="#000">6</text>
<line x1="26.0" y1="547.9" x2="30.5" y2="547.9" stroke="#000" stroke-width="1.45"/>
<text x="25.2" y="551.43" font-size="12.2" text-anchor="end" font-weight="normal" fill="#000">12</text>
<line x1="26.0" y1="515.4499999999999" x2="30.5" y2="515.4499999999999" stroke="#000" stroke-width="1.45"/>
<text x="25.2" y="518.98" font-size="12.2" text-anchor="end" font-weight="normal" fill="#000">18</text>
<line x1="26.0" y1="482.99999999999994" x2="30.5" y2="482.99999999999994" stroke="#000" stroke-width="1.45"/>
<text x="25.2" y="486.53" font-size="12.2" text-anchor="end" font-weight="normal" fill="#000">24</text>
<line x1="29.9" y1="612.8" x2="227" y2="612.8" stroke="#000" stroke-width="1.45"/>
<line x1="47.7" y1="612.8" x2="47.7" y2="617.3" stroke="#000" stroke-width="1.45"/>
<text x="47.7" y="628.3" font-size="12.2" text-anchor="middle" font-weight="normal" fill="#000">1</text>
<line x1="74.47" y1="612.8" x2="74.47" y2="617.3" stroke="#000" stroke-width="1.45"/>
<text x="74.47" y="628.3" font-size="12.2" text-anchor="middle" font-weight="normal" fill="#000">2</text>
<line x1="101.24000000000001" y1="612.8" x2="101.24000000000001" y2="617.3" stroke="#000" stroke-width="1.45"/>
<text x="101.24000000000001" y="628.3" font-size="12.2" text-anchor="middle" font-weight="normal" fill="#000">4</text>
<line x1="128.01" y1="612.8" x2="128.01" y2="617.3" stroke="#000" stroke-width="1.45"/>
<text x="128.01" y="628.3" font-size="12.2" text-anchor="middle" font-weight="normal" fill="#000">8</text>
<line x1="154.78" y1="612.8" x2="154.78" y2="617.3" stroke="#000" stroke-width="1.45"/>
<text x="154.78" y="628.3" font-size="12.2" text-anchor="middle" font-weight="normal" fill="#000">12</text>
<line x1="181.55" y1="612.8" x2="181.55" y2="617.3" stroke="#000" stroke-width="1.45"/>
<text x="181.55" y="628.3" font-size="12.2" text-anchor="middle" font-weight="normal" fill="#000">24</text>
<line x1="208.32" y1="612.8" x2="208.32" y2="617.3" stroke="#000" stroke-width="1.45"/>
<text x="208.32" y="628.3" font-size="12.2" text-anchor="middle" font-weight="normal" fill="#000">48</text>
<text x="120.4" y="640.3" font-size="13" text-anchor="middle" font-weight="normal" fill="#000">Time (h)</text>
<text x="10.2" y="544" font-size="12.2" text-anchor="middle" font-weight="normal" fill="#000" transform="rotate(-90 10.2 544)">NO. of nymphs</text>
<line x1="42.6" y1="491.6" x2="57.5" y2="491.6" stroke="#2aa2c2" stroke-width="1.3"/>
<circle cx="50.05" cy="491.60" r="2.55" fill="#fff" stroke="#2aa2c2" stroke-width="1.5"/>
<line x1="47.90" y1="491.60" x2="52.20" y2="491.60" stroke="#2aa2c2" stroke-width="0.9"/>
<text x="63.4" y="496.1" font-size="12.5" text-anchor="start" font-weight="normal" fill="#000">Con</text>
<line x1="42.6" y1="509" x2="57.5" y2="509" stroke="#fc8181" stroke-width="1.3"/>
<polygon points="50.05,506.00 52.90,509.00 50.05,512.00 47.20,509.00" fill="#fff" stroke="#fc8181" stroke-width="1.6"/>
<line x1="48.55" y1="509.00" x2="51.55" y2="509.00" stroke="#fc8181" stroke-width="0.9"/>
<text x="63.4" y="513.5" font-size="12.5" text-anchor="start" font-weight="normal" fill="#000">GF</text>
<line x1="47.7" y1="590.6258333333333" x2="47.7" y2="588.4625" stroke="#fc8181" stroke-width="1.2"/>
<line x1="44.900000000000006" y1="588.4625" x2="50.5" y2="588.4625" stroke="#fc8181" stroke-width="1.2"/>
<line x1="74.47" y1="591.7075" x2="74.47" y2="589.5441666666666" stroke="#fc8181" stroke-width="1.2"/>
<line x1="71.67" y1="589.5441666666666" x2="77.27" y2="589.5441666666666" stroke="#fc8181" stroke-width="1.2"/>
<line x1="101.24000000000001" y1="585.7583333333333" x2="101.24000000000001" y2="581.4316666666666" stroke="#fc8181" stroke-width="1.2"/>
<line x1="98.44000000000001" y1="581.4316666666666" x2="104.04" y2="581.4316666666666" stroke="#fc8181" stroke-width="1.2"/>
<line x1="128.01" y1="584.6766666666666" x2="128.01" y2="580.3499999999999" stroke="#fc8181" stroke-width="1.2"/>
<line x1="125.21" y1="580.3499999999999" x2="130.81" y2="580.3499999999999" stroke="#fc8181" stroke-width="1.2"/>
<line x1="154.78" y1="583.0541666666666" x2="154.78" y2="579.8091666666667" stroke="#fc8181" stroke-width="1.2"/>
<line x1="151.98" y1="579.8091666666667" x2="157.58" y2="579.8091666666667" stroke="#fc8181" stroke-width="1.2"/>
<line x1="181.55" y1="584.1358333333333" x2="181.55" y2="579.8091666666667" stroke="#fc8181" stroke-width="1.2"/>
<line x1="178.75" y1="579.8091666666667" x2="184.35000000000002" y2="579.8091666666667" stroke="#fc8181" stroke-width="1.2"/>
<line x1="208.32" y1="587.3808333333333" x2="208.32" y2="584.1358333333333" stroke="#fc8181" stroke-width="1.2"/>
<line x1="205.51999999999998" y1="584.1358333333333" x2="211.12" y2="584.1358333333333" stroke="#fc8181" stroke-width="1.2"/>
<polyline points="47.70,590.63 74.47,591.71 101.24,585.76 128.01,584.68 154.78,583.05 181.55,584.14 208.32,587.38" fill="none" stroke="#fc8181" stroke-width="1.7" stroke-linejoin="round"/>
<polygon points="47.70,587.63 50.55,590.63 47.70,593.63 44.85,590.63" fill="#fff" stroke="#fc8181" stroke-width="1.6"/>
<line x1="46.20" y1="590.63" x2="49.20" y2="590.63" stroke="#fc8181" stroke-width="0.9"/>
<polygon points="74.47,588.71 77.32,591.71 74.47,594.71 71.62,591.71" fill="#fff" stroke="#fc8181" stroke-width="1.6"/>
<line x1="72.97" y1="591.71" x2="75.97" y2="591.71" stroke="#fc8181" stroke-width="0.9"/>
<polygon points="101.24,582.76 104.09,585.76 101.24,588.76 98.39,585.76" fill="#fff" stroke="#fc8181" stroke-width="1.6"/>
<line x1="99.74" y1="585.76" x2="102.74" y2="585.76" stroke="#fc8181" stroke-width="0.9"/>
<polygon points="128.01,581.68 130.86,584.68 128.01,587.68 125.16,584.68" fill="#fff" stroke="#fc8181" stroke-width="1.6"/>
<line x1="126.51" y1="584.68" x2="129.51" y2="584.68" stroke="#fc8181" stroke-width="0.9"/>
<polygon points="154.78,580.05 157.63,583.05 154.78,586.05 151.93,583.05" fill="#fff" stroke="#fc8181" stroke-width="1.6"/>
<line x1="153.28" y1="583.05" x2="156.28" y2="583.05" stroke="#fc8181" stroke-width="0.9"/>
<polygon points="181.55,581.14 184.40,584.14 181.55,587.14 178.70,584.14" fill="#fff" stroke="#fc8181" stroke-width="1.6"/>
<line x1="180.05" y1="584.14" x2="183.05" y2="584.14" stroke="#fc8181" stroke-width="0.9"/>
<polygon points="208.32,584.38 211.17,587.38 208.32,590.38 205.47,587.38" fill="#fff" stroke="#fc8181" stroke-width="1.6"/>
<line x1="206.82" y1="587.38" x2="209.82" y2="587.38" stroke="#fc8181" stroke-width="0.9"/>
<line x1="47.7" y1="590.6258333333333" x2="47.7" y2="586.2991666666667" stroke="#2aa2c2" stroke-width="1.2"/>
<line x1="44.900000000000006" y1="586.2991666666667" x2="50.5" y2="586.2991666666667" stroke="#2aa2c2" stroke-width="1.2"/>
<line x1="74.47" y1="584.40625" x2="74.47" y2="578.9979166666666" stroke="#2aa2c2" stroke-width="1.2"/>
<line x1="71.67" y1="578.9979166666666" x2="77.27" y2="578.9979166666666" stroke="#2aa2c2" stroke-width="1.2"/>
<line x1="101.24000000000001" y1="575.4825" x2="101.24000000000001" y2="570.0741666666667" stroke="#2aa2c2" stroke-width="1.2"/>
<line x1="98.44000000000001" y1="570.0741666666667" x2="104.04" y2="570.0741666666667" stroke="#2aa2c2" stroke-width="1.2"/>
<line x1="128.01" y1="574.5630833333332" x2="128.01" y2="570.2364166666666" stroke="#2aa2c2" stroke-width="1.2"/>
<line x1="125.21" y1="570.2364166666666" x2="130.81" y2="570.2364166666666" stroke="#2aa2c2" stroke-width="1.2"/>
<line x1="154.78" y1="573.8599999999999" x2="154.78" y2="570.615" stroke="#2aa2c2" stroke-width="1.2"/>
<line x1="151.98" y1="570.615" x2="157.58" y2="570.615" stroke="#2aa2c2" stroke-width="1.2"/>
<line x1="181.55" y1="573.8599999999999" x2="181.55" y2="570.0741666666667" stroke="#2aa2c2" stroke-width="1.2"/>
<line x1="178.75" y1="570.0741666666667" x2="184.35000000000002" y2="570.0741666666667" stroke="#2aa2c2" stroke-width="1.2"/>
<line x1="208.32" y1="574.5630833333332" x2="208.32" y2="571.8589166666666" stroke="#2aa2c2" stroke-width="1.2"/>
<line x1="205.51999999999998" y1="571.8589166666666" x2="211.12" y2="571.8589166666666" stroke="#2aa2c2" stroke-width="1.2"/>
<polyline points="47.70,590.63 74.47,584.41 101.24,575.48 128.01,574.56 154.78,573.86 181.55,573.86 208.32,574.56" fill="none" stroke="#2aa2c2" stroke-width="1.7" stroke-linejoin="round"/>
<circle cx="47.70" cy="590.63" r="2.55" fill="#fff" stroke="#2aa2c2" stroke-width="1.5"/>
<line x1="45.55" y1="590.63" x2="49.85" y2="590.63" stroke="#2aa2c2" stroke-width="0.9"/>
<circle cx="74.47" cy="584.41" r="2.55" fill="#fff" stroke="#2aa2c2" stroke-width="1.5"/>
<line x1="72.32" y1="584.41" x2="76.62" y2="584.41" stroke="#2aa2c2" stroke-width="0.9"/>
<circle cx="101.24" cy="575.48" r="2.55" fill="#fff" stroke="#2aa2c2" stroke-width="1.5"/>
<line x1="99.09" y1="575.48" x2="103.39" y2="575.48" stroke="#2aa2c2" stroke-width="0.9"/>
<circle cx="128.01" cy="574.56" r="2.55" fill="#fff" stroke="#2aa2c2" stroke-width="1.5"/>
<line x1="125.86" y1="574.56" x2="130.16" y2="574.56" stroke="#2aa2c2" stroke-width="0.9"/>
<circle cx="154.78" cy="573.86" r="2.55" fill="#fff" stroke="#2aa2c2" stroke-width="1.5"/>
<line x1="152.63" y1="573.86" x2="156.93" y2="573.86" stroke="#2aa2c2" stroke-width="0.9"/>
<circle cx="181.55" cy="573.86" r="2.55" fill="#fff" stroke="#2aa2c2" stroke-width="1.5"/>
<line x1="179.40" y1="573.86" x2="183.70" y2="573.86" stroke="#2aa2c2" stroke-width="0.9"/>
<circle cx="208.32" cy="574.56" r="2.55" fill="#fff" stroke="#2aa2c2" stroke-width="1.5"/>
<line x1="206.17" y1="574.56" x2="210.47" y2="574.56" stroke="#2aa2c2" stroke-width="0.9"/>
<text x="208.32" y="605.85" font-size="16.5" text-anchor="middle" font-weight="bold" fill="#000">*</text>
<text x="226.2" y="469.1" font-size="17" text-anchor="start" font-weight="bold" fill="#000">g</text>
<line x1="284.7" y1="482.79999999999995" x2="284.7" y2="613.4" stroke="#000" stroke-width="1.45"/>
<line x1="280.2" y1="612.8" x2="284.7" y2="612.8" stroke="#000" stroke-width="1.45"/>
<text x="279.4" y="616.33" font-size="12.2" text-anchor="end" font-weight="normal" fill="#000">80</text>
<line x1="280.2" y1="587.05" x2="284.7" y2="587.05" stroke="#000" stroke-width="1.45"/>
<text x="279.4" y="590.58" font-size="12.2" text-anchor="end" font-weight="normal" fill="#000">85</text>
<line x1="280.2" y1="561.3" x2="284.7" y2="561.3" stroke="#000" stroke-width="1.45"/>
<text x="279.4" y="564.83" font-size="12.2" text-anchor="end" font-weight="normal" fill="#000">90</text>
<line x1="280.2" y1="535.55" x2="284.7" y2="535.55" stroke="#000" stroke-width="1.45"/>
<text x="279.4" y="539.08" font-size="12.2" text-anchor="end" font-weight="normal" fill="#000">95</text>
<line x1="280.2" y1="509.8" x2="284.7" y2="509.8" stroke="#000" stroke-width="1.45"/>
<text x="279.4" y="513.33" font-size="12.2" text-anchor="end" font-weight="normal" fill="#000">100</text>
<line x1="280.2" y1="484.05" x2="284.7" y2="484.05" stroke="#000" stroke-width="1.45"/>
<text x="279.4" y="487.58" font-size="12.2" text-anchor="end" font-weight="normal" fill="#000">105</text>
<line x1="284.09999999999997" y1="612.8" x2="478.5" y2="612.8" stroke="#000" stroke-width="1.45"/>
<line x1="295.4" y1="612.8" x2="295.4" y2="617.3" stroke="#000" stroke-width="1.45"/>
<text x="295.4" y="628.3" font-size="12.2" text-anchor="middle" font-weight="normal" fill="#000">0</text>
<line x1="327.58" y1="612.8" x2="327.58" y2="617.3" stroke="#000" stroke-width="1.45"/>
<text x="327.58" y="628.3" font-size="12.2" text-anchor="middle" font-weight="normal" fill="#000">2</text>
<line x1="359.76" y1="612.8" x2="359.76" y2="617.3" stroke="#000" stroke-width="1.45"/>
<text x="359.76" y="628.3" font-size="12.2" text-anchor="middle" font-weight="normal" fill="#000">4</text>
<line x1="391.93999999999994" y1="612.8" x2="391.93999999999994" y2="617.3" stroke="#000" stroke-width="1.45"/>
<text x="391.93999999999994" y="628.3" font-size="12.2" text-anchor="middle" font-weight="normal" fill="#000">6</text>
<line x1="424.12" y1="612.8" x2="424.12" y2="617.3" stroke="#000" stroke-width="1.45"/>
<text x="424.12" y="628.3" font-size="12.2" text-anchor="middle" font-weight="normal" fill="#000">8</text>
<line x1="456.29999999999995" y1="612.8" x2="456.29999999999995" y2="617.3" stroke="#000" stroke-width="1.45"/>
<text x="456.29999999999995" y="628.3" font-size="12.2" text-anchor="middle" font-weight="normal" fill="#000">10</text>
<text x="355.4" y="639.8" font-size="13" text-anchor="middle" font-weight="normal" fill="#000">Time (d)</text>
<text x="247.3" y="545.6" font-size="12.8" text-anchor="middle" font-weight="normal" fill="#000" transform="rotate(-90 247.3 545.6)">Survival rate of nymphs</text>
<text x="260.8" y="546.5" font-size="12.2" text-anchor="middle" font-weight="normal" fill="#000" transform="rotate(-90 260.8 546.5)">(%)</text>
<line x1="421.4" y1="479.4" x2="436.7" y2="479.4" stroke="#2aa2c2" stroke-width="1.3"/>
<circle cx="429.05" cy="479.40" r="2.55" fill="#fff" stroke="#2aa2c2" stroke-width="1.5"/>
<line x1="426.90" y1="479.40" x2="431.20" y2="479.40" stroke="#2aa2c2" stroke-width="0.9"/>
<text x="444" y="482.8" font-size="12.5" text-anchor="start" font-weight="normal" fill="#000">Con</text>
<line x1="421.4" y1="496.3" x2="436.7" y2="496.3" stroke="#fa9f42" stroke-width="1.3"/>
<polygon points="429.05,493.40 431.80,498.48 426.29,498.48" fill="#fff" stroke="#fa9f42" stroke-width="1.3" stroke-linejoin="miter"/>
<line x1="427.60" y1="496.30" x2="430.50" y2="496.30" stroke="#fa9f42" stroke-width="0.9"/>
<text x="444" y="499.8" font-size="12.5" text-anchor="start" font-weight="normal" fill="#000">N</text>
<line x1="421.4" y1="513.3" x2="436.7" y2="513.3" stroke="#fc8181" stroke-width="1.3"/>
<polygon points="429.05,510.30 431.90,513.30 429.05,516.30 426.20,513.30" fill="#fff" stroke="#fc8181" stroke-width="1.6"/>
<line x1="427.55" y1="513.30" x2="430.55" y2="513.30" stroke="#fc8181" stroke-width="0.9"/>
<text x="444" y="516.8" font-size="12.5" text-anchor="start" font-weight="normal" fill="#000">GF</text>
<line x1="327.58" y1="544.3050000000001" x2="327.58" y2="532.5" stroke="#fc8181" stroke-width="1.2" stroke-opacity="0.55"/>
<line x1="324.38" y1="532.5" x2="330.78" y2="532.5" stroke="#fc8181" stroke-width="1.2" stroke-opacity="0.55"/>
<line x1="359.76" y1="564.905" x2="359.76" y2="554.5" stroke="#fc8181" stroke-width="1.2" stroke-opacity="0.55"/>
<line x1="356.56" y1="554.5" x2="362.96" y2="554.5" stroke="#fc8181" stroke-width="1.2" stroke-opacity="0.55"/>
<line x1="391.93999999999994" y1="571.6" x2="391.93999999999994" y2="560.3" stroke="#fc8181" stroke-width="1.2" stroke-opacity="0.55"/>
<line x1="388.73999999999995" y1="560.3" x2="395.13999999999993" y2="560.3" stroke="#fc8181" stroke-width="1.2" stroke-opacity="0.55"/>
<line x1="424.12" y1="574.6899999999999" x2="424.12" y2="564.5" stroke="#fc8181" stroke-width="1.2" stroke-opacity="0.55"/>
<line x1="420.92" y1="564.5" x2="427.32" y2="564.5" stroke="#fc8181" stroke-width="1.2" stroke-opacity="0.55"/>
<line x1="456.29999999999995" y1="581.6425" x2="456.29999999999995" y2="569.2" stroke="#fc8181" stroke-width="1.2" stroke-opacity="0.55"/>
<line x1="453.09999999999997" y1="569.2" x2="459.49999999999994" y2="569.2" stroke="#fc8181" stroke-width="1.2" stroke-opacity="0.55"/>
<line x1="327.58" y1="537.61" x2="327.58" y2="523.2" stroke="#fa9f42" stroke-width="1.2" stroke-opacity="0.55"/>
<line x1="324.38" y1="523.2" x2="330.78" y2="523.2" stroke="#fa9f42" stroke-width="1.2" stroke-opacity="0.55"/>
<line x1="359.76" y1="547.395" x2="359.76" y2="530.5" stroke="#fa9f42" stroke-width="1.2" stroke-opacity="0.55"/>
<line x1="356.56" y1="530.5" x2="362.96" y2="530.5" stroke="#fa9f42" stroke-width="1.2" stroke-opacity="0.55"/>
<line x1="391.93999999999994" y1="551.0" x2="391.93999999999994" y2="532.6" stroke="#fa9f42" stroke-width="1.2" stroke-opacity="0.55"/>
<line x1="388.73999999999995" y1="532.6" x2="395.13999999999993" y2="532.6" stroke="#fa9f42" stroke-width="1.2" stroke-opacity="0.55"/>
<line x1="424.12" y1="551.0" x2="424.12" y2="532.6" stroke="#fa9f42" stroke-width="1.2" stroke-opacity="0.55"/>
<line x1="420.92" y1="532.6" x2="427.32" y2="532.6" stroke="#fa9f42" stroke-width="1.2" stroke-opacity="0.55"/>
<line x1="456.29999999999995" y1="558.21" x2="456.29999999999995" y2="539.9" stroke="#fa9f42" stroke-width="1.2" stroke-opacity="0.55"/>
<line x1="453.09999999999997" y1="539.9" x2="459.49999999999994" y2="539.9" stroke="#fa9f42" stroke-width="1.2" stroke-opacity="0.55"/>
<line x1="327.58" y1="540.391" x2="327.58" y2="525.3" stroke="#2aa2c2" stroke-width="1.2" stroke-opacity="0.55"/>
<line x1="324.38" y1="525.3" x2="330.78" y2="525.3" stroke="#2aa2c2" stroke-width="1.2" stroke-opacity="0.55"/>
<line x1="359.76" y1="547.9100000000001" x2="359.76" y2="533.1" stroke="#2aa2c2" stroke-width="1.2" stroke-opacity="0.55"/>
<line x1="356.56" y1="533.1" x2="362.96" y2="533.1" stroke="#2aa2c2" stroke-width="1.2" stroke-opacity="0.55"/>
<line x1="391.93999999999994" y1="551.0" x2="391.93999999999994" y2="537.5" stroke="#2aa2c2" stroke-width="1.2" stroke-opacity="0.55"/>
<line x1="388.73999999999995" y1="537.5" x2="395.13999999999993" y2="537.5" stroke="#2aa2c2" stroke-width="1.2" stroke-opacity="0.55"/>
<line x1="424.12" y1="551.0" x2="424.12" y2="537.5" stroke="#2aa2c2" stroke-width="1.2" stroke-opacity="0.55"/>
<line x1="420.92" y1="537.5" x2="427.32" y2="537.5" stroke="#2aa2c2" stroke-width="1.2" stroke-opacity="0.55"/>
<line x1="456.29999999999995" y1="551.0" x2="456.29999999999995" y2="537.5" stroke="#2aa2c2" stroke-width="1.2" stroke-opacity="0.55"/>
<line x1="453.09999999999997" y1="537.5" x2="459.49999999999994" y2="537.5" stroke="#2aa2c2" stroke-width="1.2" stroke-opacity="0.55"/>
<polyline points="295.40,509.80 327.58,544.31 359.76,564.90 391.94,571.60 424.12,574.69 456.30,581.64" fill="none" stroke="#fc8181" stroke-width="1.7" stroke-linejoin="round"/>
<polygon points="295.40,506.80 298.25,509.80 295.40,512.80 292.55,509.80" fill="#fff" stroke="#fc8181" stroke-width="1.6"/>
<line x1="293.90" y1="509.80" x2="296.90" y2="509.80" stroke="#fc8181" stroke-width="0.9"/>
<polygon points="327.58,541.31 330.43,544.31 327.58,547.31 324.73,544.31" fill="#fff" stroke="#fc8181" stroke-width="1.6"/>
<line x1="326.08" y1="544.31" x2="329.08" y2="544.31" stroke="#fc8181" stroke-width="0.9"/>
<polygon points="359.76,561.90 362.61,564.90 359.76,567.90 356.91,564.90" fill="#fff" stroke="#fc8181" stroke-width="1.6"/>
<line x1="358.26" y1="564.90" x2="361.26" y2="564.90" stroke="#fc8181" stroke-width="0.9"/>
<polygon points="391.94,568.60 394.79,571.60 391.94,574.60 389.09,571.60" fill="#fff" stroke="#fc8181" stroke-width="1.6"/>
<line x1="390.44" y1="571.60" x2="393.44" y2="571.60" stroke="#fc8181" stroke-width="0.9"/>
<polygon points="424.12,571.69 426.97,574.69 424.12,577.69 421.27,574.69" fill="#fff" stroke="#fc8181" stroke-width="1.6"/>
<line x1="422.62" y1="574.69" x2="425.62" y2="574.69" stroke="#fc8181" stroke-width="0.9"/>
<polygon points="456.30,578.64 459.15,581.64 456.30,584.64 453.45,581.64" fill="#fff" stroke="#fc8181" stroke-width="1.6"/>
<line x1="454.80" y1="581.64" x2="457.80" y2="581.64" stroke="#fc8181" stroke-width="0.9"/>
<polyline points="295.40,509.80 327.58,537.61 359.76,547.39 391.94,551.00 424.12,551.00 456.30,558.21" fill="none" stroke="#fa9f42" stroke-width="1.7" stroke-linejoin="round"/>
<polygon points="295.40,506.90 298.15,511.98 292.64,511.98" fill="#fff" stroke="#fa9f42" stroke-width="1.3" stroke-linejoin="miter"/>
<line x1="293.95" y1="509.80" x2="296.85" y2="509.80" stroke="#fa9f42" stroke-width="0.9"/>
<polygon points="327.58,534.71 330.33,539.78 324.82,539.78" fill="#fff" stroke="#fa9f42" stroke-width="1.3" stroke-linejoin="miter"/>
<line x1="326.13" y1="537.61" x2="329.03" y2="537.61" stroke="#fa9f42" stroke-width="0.9"/>
<polygon points="359.76,544.50 362.51,549.57 357.00,549.57" fill="#fff" stroke="#fa9f42" stroke-width="1.3" stroke-linejoin="miter"/>
<line x1="358.31" y1="547.39" x2="361.21" y2="547.39" stroke="#fa9f42" stroke-width="0.9"/>
<polygon points="391.94,548.10 394.69,553.17 389.18,553.17" fill="#fff" stroke="#fa9f42" stroke-width="1.3" stroke-linejoin="miter"/>
<line x1="390.49" y1="551.00" x2="393.39" y2="551.00" stroke="#fa9f42" stroke-width="0.9"/>
<polygon points="424.12,548.10 426.88,553.17 421.37,553.17" fill="#fff" stroke="#fa9f42" stroke-width="1.3" stroke-linejoin="miter"/>
<line x1="422.67" y1="551.00" x2="425.57" y2="551.00" stroke="#fa9f42" stroke-width="0.9"/>
<polygon points="456.30,555.31 459.05,560.38 453.54,560.38" fill="#fff" stroke="#fa9f42" stroke-width="1.3" stroke-linejoin="miter"/>
<line x1="454.85" y1="558.21" x2="457.75" y2="558.21" stroke="#fa9f42" stroke-width="0.9"/>
<polyline points="295.40,509.80 327.58,540.39 359.76,547.91 391.94,551.00 424.12,551.00 456.30,551.00" fill="none" stroke="#2aa2c2" stroke-width="1.9" stroke-linejoin="round"/>
<circle cx="295.40" cy="509.80" r="3.0" fill="#fff" stroke="#2aa2c2" stroke-width="1.5"/>
<line x1="292.80" y1="509.80" x2="298.00" y2="509.80" stroke="#2aa2c2" stroke-width="0.9"/>
<circle cx="327.58" cy="540.39" r="3.0" fill="#fff" stroke="#2aa2c2" stroke-width="1.5"/>
<line x1="324.98" y1="540.39" x2="330.18" y2="540.39" stroke="#2aa2c2" stroke-width="0.9"/>
<circle cx="359.76" cy="547.91" r="3.0" fill="#fff" stroke="#2aa2c2" stroke-width="1.5"/>
<line x1="357.16" y1="547.91" x2="362.36" y2="547.91" stroke="#2aa2c2" stroke-width="0.9"/>
<circle cx="391.94" cy="551.00" r="3.0" fill="#fff" stroke="#2aa2c2" stroke-width="1.5"/>
<line x1="389.34" y1="551.00" x2="394.54" y2="551.00" stroke="#2aa2c2" stroke-width="0.9"/>
<circle cx="424.12" cy="551.00" r="3.0" fill="#fff" stroke="#2aa2c2" stroke-width="1.5"/>
<line x1="421.52" y1="551.00" x2="426.72" y2="551.00" stroke="#2aa2c2" stroke-width="0.9"/>
<circle cx="456.30" cy="551.00" r="3.0" fill="#fff" stroke="#2aa2c2" stroke-width="1.5"/>
<line x1="453.70" y1="551.00" x2="458.90" y2="551.00" stroke="#2aa2c2" stroke-width="0.9"/>
<text x="475.5" y="468.7" font-size="17" text-anchor="start" font-weight="bold" fill="#000">h</text>
<line x1="525.7" y1="464.4" x2="525.7" y2="622.1" stroke="#000" stroke-width="1.45"/>
<line x1="521.2" y1="621.5" x2="525.7" y2="621.5" stroke="#000" stroke-width="1.45"/>
<text x="520.4000000000001" y="625.03" font-size="12.2" text-anchor="end" font-weight="normal" fill="#000">0</text>
<line x1="521.2" y1="590.2" x2="525.7" y2="590.2" stroke="#000" stroke-width="1.45"/>
<text x="520.4000000000001" y="593.73" font-size="12.2" text-anchor="end" font-weight="normal" fill="#000">20</text>
<line x1="521.2" y1="558.9" x2="525.7" y2="558.9" stroke="#000" stroke-width="1.45"/>
<text x="520.4000000000001" y="562.43" font-size="12.2" text-anchor="end" font-weight="normal" fill="#000">40</text>
<line x1="521.2" y1="527.6" x2="525.7" y2="527.6" stroke="#000" stroke-width="1.45"/>
<text x="520.4000000000001" y="531.13" font-size="12.2" text-anchor="end" font-weight="normal" fill="#000">60</text>
<line x1="521.2" y1="496.3" x2="525.7" y2="496.3" stroke="#000" stroke-width="1.45"/>
<text x="520.4000000000001" y="499.83" font-size="12.2" text-anchor="end" font-weight="normal" fill="#000">80</text>
<line x1="521.2" y1="465.0" x2="525.7" y2="465.0" stroke="#000" stroke-width="1.45"/>
<text x="520.4000000000001" y="468.53" font-size="12.2" text-anchor="end" font-weight="normal" fill="#000">100</text>
<line x1="525.1" y1="621.5" x2="683.6" y2="621.5" stroke="#000" stroke-width="1.45"/>
<line x1="557.2" y1="621.5" x2="557.2" y2="626.0" stroke="#000" stroke-width="1.45"/>
<line x1="604" y1="621.5" x2="604" y2="626.0" stroke="#000" stroke-width="1.45"/>
<line x1="650.8" y1="621.5" x2="650.8" y2="626.0" stroke="#000" stroke-width="1.45"/>
<text x="557.6" y="637.9" font-size="12.7" text-anchor="middle" font-weight="normal" fill="#000">Con</text>
<text x="604" y="637.9" font-size="12.7" text-anchor="middle" font-weight="normal" fill="#000">N</text>
<text x="650.8" y="637.9" font-size="12.7" text-anchor="middle" font-weight="normal" fill="#000">GF</text>
<text x="500.5" y="542.3" font-size="12.4" text-anchor="middle" font-weight="normal" fill="#000" transform="rotate(-90 500.5 542.3)">Hatching rate of eggs (%)</text>
<rect x="541.3" y="514.9" width="31.8" height="106.60000000000002" fill="#1795b1" stroke="none" stroke-width="1"/>
<rect x="588.2" y="515.3" width="31.5" height="106.20000000000005" fill="#fa9f42" stroke="none" stroke-width="1"/>
<rect x="635.2" y="589.8" width="31.8" height="31.700000000000045" fill="#fc8181" stroke="none" stroke-width="1"/>
<line x1="557.2" y1="514.9" x2="557.2" y2="501.3" stroke="#1795b1" stroke-width="1.1"/>
<line x1="548.8000000000001" y1="501.3" x2="565.6" y2="501.3" stroke="#1795b1" stroke-width="1.1"/>
<line x1="604" y1="515.3" x2="604" y2="508.4" stroke="#fa9f42" stroke-width="1.1"/>
<line x1="595.5" y1="508.4" x2="612.5" y2="508.4" stroke="#fa9f42" stroke-width="1.1"/>
<line x1="650.8" y1="589.8" x2="650.8" y2="584.4" stroke="#fc8181" stroke-width="1.1"/>
<line x1="642.3" y1="584.4" x2="659.3" y2="584.4" stroke="#fc8181" stroke-width="1.1"/>
<circle cx="557.1" cy="477.5" r="1.7" fill="#000"/>
<circle cx="547.5" cy="489.1" r="1.7" fill="#000"/>
<circle cx="554.1" cy="489.3" r="1.7" fill="#000"/>
<circle cx="560.2" cy="487.5" r="1.7" fill="#000"/>
<circle cx="566.5" cy="486" r="1.7" fill="#000"/>
<circle cx="557.1" cy="496.7" r="1.7" fill="#000"/>
<circle cx="557.1" cy="505.7" r="1.7" fill="#000"/>
<circle cx="553.4" cy="555" r="1.7" fill="#000"/>
<circle cx="560.7" cy="555.9" r="1.7" fill="#000"/>
<circle cx="557.2" cy="601.8" r="1.7" fill="#000"/>
<circle cx="600.7" cy="489.4" r="1.7" fill="#000"/>
<circle cx="607" cy="487.7" r="1.7" fill="#000"/>
<circle cx="604" cy="492.7" r="1.7" fill="#000"/>
<circle cx="604" cy="496.7" r="1.7" fill="#000"/>
<circle cx="600.7" cy="517.3" r="1.7" fill="#000"/>
<circle cx="607" cy="517.3" r="1.7" fill="#000"/>
<circle cx="604" cy="530" r="1.7" fill="#000"/>
<circle cx="600.7" cy="538.6" r="1.7" fill="#000"/>
<circle cx="607" cy="538.6" r="1.7" fill="#000"/>
<circle cx="604" cy="543.3" r="1.7" fill="#000"/>
<circle cx="650.7" cy="554.4" r="1.7" fill="#000"/>
<circle cx="650.7" cy="568.1" r="1.7" fill="#000"/>
<circle cx="647.8" cy="586.6" r="1.7" fill="#000"/>
<circle cx="654" cy="585.8" r="1.7" fill="#000"/>
<circle cx="641.4" cy="598.4" r="1.7" fill="#000"/>
<circle cx="647.8" cy="599.4" r="1.7" fill="#000"/>
<circle cx="654" cy="599.1" r="1.7" fill="#000"/>
<circle cx="660.3" cy="596.5" r="1.7" fill="#000"/>
<circle cx="647.8" cy="605.3" r="1.7" fill="#000"/>
<circle cx="654" cy="603.4" r="1.7" fill="#000"/>
<text x="644.2" y="549.15" font-size="16.5" text-anchor="middle" font-weight="bold" fill="#000">*</text>
<text x="651.7" y="549.15" font-size="16.5" text-anchor="middle" font-weight="bold" fill="#000">*</text>
<text x="659.2" y="549.15" font-size="16.5" text-anchor="middle" font-weight="bold" fill="#000">*</text>
</svg>
</body></html>
